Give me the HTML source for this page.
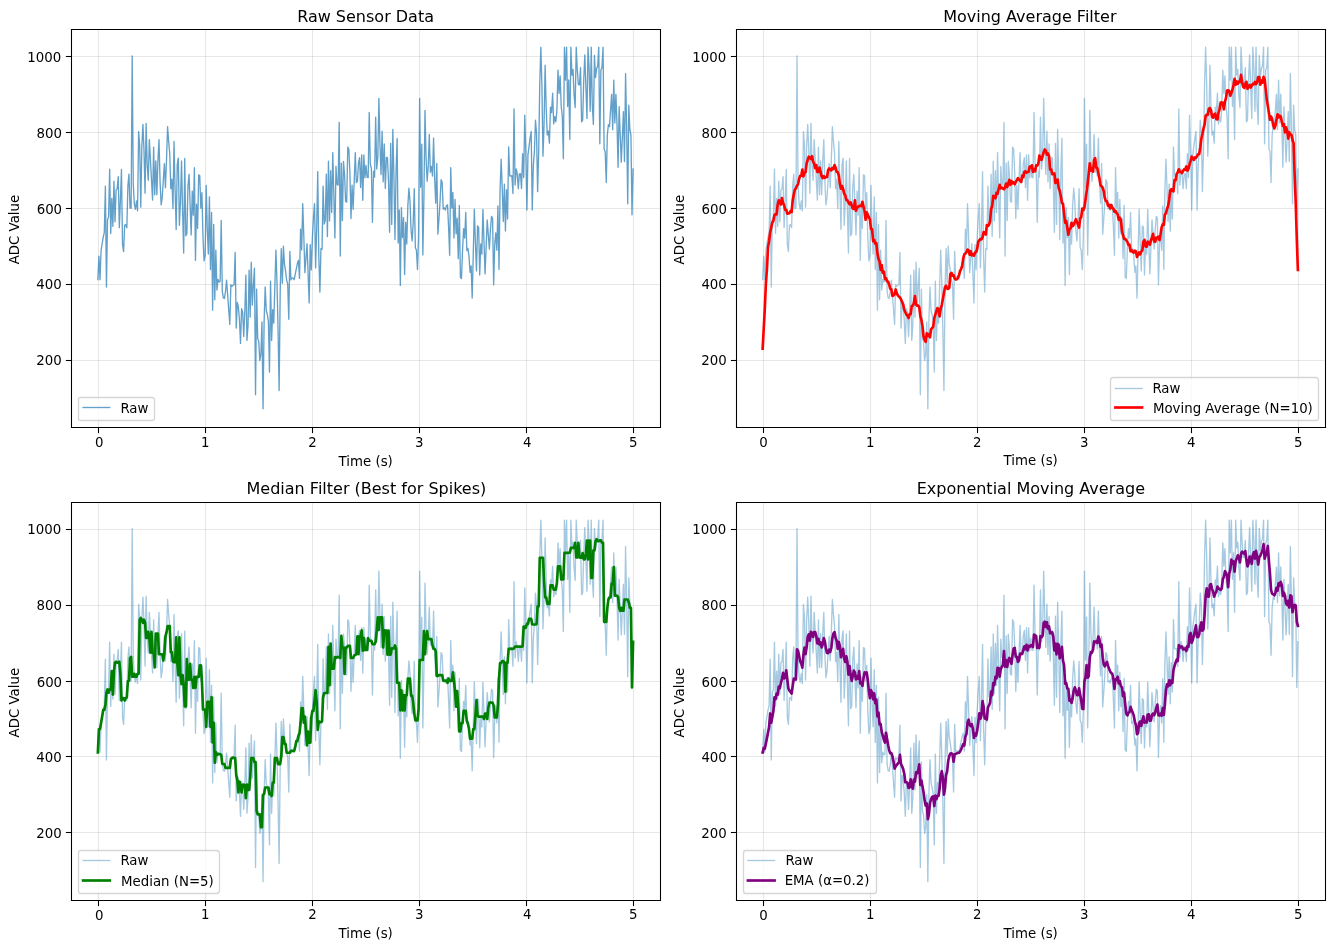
<!DOCTYPE html>
<html lang="en"><head><meta charset="utf-8"><title>ADC Sensor Filtering</title>
<style>
html,body{margin:0;padding:0;background:#fff;}
body{width:1334px;height:950px;overflow:hidden;font-family:"DejaVu Sans","Liberation Sans",sans-serif;}
svg{display:block;will-change:transform;}
</style></head><body>
<svg width="1334" height="950" viewBox="0 0.43276 1000.5 712.5" version="1.1">
 <defs>
  <style>svg *{stroke-linejoin: round; stroke-linecap: butt}</style>
 </defs>
 <g id="figure_1">
  <g id="patch_1">
   <path d="M 0 712.774375 
L 1000.678125 712.774375 
L 1000.678125 0 
L 0 0 
z
" style="fill: #ffffff"/>
  </g>
  <g id="axes_1">
   <g id="patch_2">
    <path d="M 53.328125 320.618125 
L 494.878125 320.618125 
L 494.878125 22.318125 
L 53.328125 22.318125 
z
" style="fill: #ffffff"/>
   </g>
   <g id="matplotlib.axis_1">
    <g id="xtick_1">
     <g id="line2d_1">
      <path d="M 73.875 320.6181 L 73.875 22.3181" clip-path="url(#p003c4ebb7e)" style="fill: none; stroke: #b0b0b0; stroke-opacity: 0.3; stroke-width: 0.8; stroke-linecap: square"/>
     </g>
     <g id="line2d_2">
      <defs>
       <path id="m572e7fd0fb" d="M 0 0 
L 0 4.2 
" style="stroke: #000000; stroke-width: 0.8"/>
      </defs>
      <g>
       <use href="#m572e7fd0fb" x="73.875" y="321.0578" style="stroke: #000000; stroke-width: 0.8"/>
      </g>
     </g>
     <g id="text_1">
      <text style="font-size: 10px; font-family: 'DejaVu Sans', 'Liberation Sans', sans-serif; text-anchor: middle" x="74.492" y="335.728">0</text>
     </g>
    </g>
    <g id="xtick_2">
     <g id="line2d_3">
      <path d="M 154.125 320.6181 L 154.125 22.3181" clip-path="url(#p003c4ebb7e)" style="fill: none; stroke: #b0b0b0; stroke-opacity: 0.3; stroke-width: 0.8; stroke-linecap: square"/>
     </g>
     <g id="line2d_4">
      <g>
       <use href="#m572e7fd0fb" x="154.125" y="321.0578" style="stroke: #000000; stroke-width: 0.8"/>
      </g>
     </g>
     <g id="text_2">
      <text style="font-size: 10px; font-family: 'DejaVu Sans', 'Liberation Sans', sans-serif; text-anchor: middle" x="153.9066" y="335.9246">1</text>
     </g>
    </g>
    <g id="xtick_3">
     <g id="line2d_5">
      <path d="M 234.375 320.6181 L 234.375 22.3181" clip-path="url(#p003c4ebb7e)" style="fill: none; stroke: #b0b0b0; stroke-opacity: 0.3; stroke-width: 0.8; stroke-linecap: square"/>
     </g>
     <g id="line2d_6">
      <g>
       <use href="#m572e7fd0fb" x="234.375" y="321.0578" style="stroke: #000000; stroke-width: 0.8"/>
      </g>
     </g>
     <g id="text_3">
      <text style="font-size: 10px; font-family: 'DejaVu Sans', 'Liberation Sans', sans-serif; text-anchor: middle" x="234.2916" y="335.9083">2</text>
     </g>
    </g>
    <g id="xtick_4">
     <g id="line2d_7">
      <path d="M 314.625 320.6181 L 314.625 22.3181" clip-path="url(#p003c4ebb7e)" style="fill: none; stroke: #b0b0b0; stroke-opacity: 0.3; stroke-width: 0.8; stroke-linecap: square"/>
     </g>
     <g id="line2d_8">
      <g>
       <use href="#m572e7fd0fb" x="314.625" y="321.0578" style="stroke: #000000; stroke-width: 0.8"/>
      </g>
     </g>
     <g id="text_4">
      <text style="font-size: 10px; font-family: 'DejaVu Sans', 'Liberation Sans', sans-serif; text-anchor: middle" x="314.4795" y="335.9885">3</text>
     </g>
    </g>
    <g id="xtick_5">
     <g id="line2d_9">
      <path d="M 394.875 320.6181 L 394.875 22.3181" clip-path="url(#p003c4ebb7e)" style="fill: none; stroke: #b0b0b0; stroke-opacity: 0.3; stroke-width: 0.8; stroke-linecap: square"/>
     </g>
     <g id="line2d_10">
      <g>
       <use href="#m572e7fd0fb" x="394.875" y="321.0578" style="stroke: #000000; stroke-width: 0.8"/>
      </g>
     </g>
     <g id="text_5">
      <text style="font-size: 10px; font-family: 'DejaVu Sans', 'Liberation Sans', sans-serif; text-anchor: middle" x="395.374" y="335.9714">4</text>
     </g>
    </g>
    <g id="xtick_6">
     <g id="line2d_11">
      <path d="M 475.125 320.6181 L 475.125 22.3181" clip-path="url(#p003c4ebb7e)" style="fill: none; stroke: #b0b0b0; stroke-opacity: 0.3; stroke-width: 0.8; stroke-linecap: square"/>
     </g>
     <g id="line2d_12">
      <g>
       <use href="#m572e7fd0fb" x="475.125" y="321.0578" style="stroke: #000000; stroke-width: 0.8"/>
      </g>
     </g>
     <g id="text_6">
      <text style="font-size: 10px; font-family: 'DejaVu Sans', 'Liberation Sans', sans-serif; text-anchor: middle" x="474.9556" y="335.9235">5</text>
     </g>
    </g>
    <g id="text_7">
     <text style="font-size: 10px; font-family: 'DejaVu Sans', 'Liberation Sans', sans-serif; text-anchor: middle" x="274.2772" y="349.561">Time (s)</text>
    </g>
   </g>
   <g id="matplotlib.axis_2">
    <g id="ytick_1">
     <g id="line2d_13">
      <path d="M 53.3281 270.8078 L 494.8781 270.8078" clip-path="url(#p003c4ebb7e)" style="fill: none; stroke: #b0b0b0; stroke-opacity: 0.3; stroke-width: 0.8; stroke-linecap: square"/>
     </g>
     <g id="line2d_14">
      <defs>
       <path id="m8037495adb" d="M 0 0 
L -4.2 0 
" style="stroke: #000000; stroke-width: 0.8"/>
      </defs>
      <g>
       <use href="#m8037495adb" x="53.625" y="270.8078" style="stroke: #000000; stroke-width: 0.8"/>
      </g>
     </g>
     <g id="text_8">
      <text style="font-size: 10px; font-family: 'DejaVu Sans', 'Liberation Sans', sans-serif; text-anchor: end" x="46.2723" y="274.3776">200</text>
     </g>
    </g>
    <g id="ytick_2">
     <g id="line2d_15">
      <path d="M 53.3281 213.8078 L 494.8781 213.8078" clip-path="url(#p003c4ebb7e)" style="fill: none; stroke: #b0b0b0; stroke-opacity: 0.3; stroke-width: 0.8; stroke-linecap: square"/>
     </g>
     <g id="line2d_16">
      <g>
       <use href="#m8037495adb" x="53.625" y="213.8078" style="stroke: #000000; stroke-width: 0.8"/>
      </g>
     </g>
     <g id="text_9">
      <text style="font-size: 10px; font-family: 'DejaVu Sans', 'Liberation Sans', sans-serif; text-anchor: end" x="46.2899" y="217.513">400</text>
     </g>
    </g>
    <g id="ytick_3">
     <g id="line2d_17">
      <path d="M 53.3281 156.8078 L 494.8781 156.8078" clip-path="url(#p003c4ebb7e)" style="fill: none; stroke: #b0b0b0; stroke-opacity: 0.3; stroke-width: 0.8; stroke-linecap: square"/>
     </g>
     <g id="line2d_18">
      <g>
       <use href="#m8037495adb" x="53.625" y="156.8078" style="stroke: #000000; stroke-width: 0.8"/>
      </g>
     </g>
     <g id="text_10">
      <text style="font-size: 10px; font-family: 'DejaVu Sans', 'Liberation Sans', sans-serif; text-anchor: end" x="46.5833" y="160.8093">600</text>
     </g>
    </g>
    <g id="ytick_4">
     <g id="line2d_19">
      <path d="M 53.3281 99.8078 L 494.8781 99.8078" clip-path="url(#p003c4ebb7e)" style="fill: none; stroke: #b0b0b0; stroke-opacity: 0.3; stroke-width: 0.8; stroke-linecap: square"/>
     </g>
     <g id="line2d_20">
      <g>
       <use href="#m8037495adb" x="53.625" y="99.8078" style="stroke: #000000; stroke-width: 0.8"/>
      </g>
     </g>
     <g id="text_11">
      <text style="font-size: 10px; font-family: 'DejaVu Sans', 'Liberation Sans', sans-serif; text-anchor: end" x="46.4722" y="103.6917">800</text>
     </g>
    </g>
    <g id="ytick_5">
     <g id="line2d_21">
      <path d="M 53.3281 42.8078 L 494.8781 42.8078" clip-path="url(#p003c4ebb7e)" style="fill: none; stroke: #b0b0b0; stroke-opacity: 0.3; stroke-width: 0.8; stroke-linecap: square"/>
     </g>
     <g id="line2d_22">
      <g>
       <use href="#m8037495adb" x="53.625" y="42.8078" style="stroke: #000000; stroke-width: 0.8"/>
      </g>
     </g>
     <g id="text_12">
      <text style="font-size: 10px; font-family: 'DejaVu Sans', 'Liberation Sans', sans-serif; text-anchor: end" x="45.9663" y="46.6152">1000</text>
     </g>
    </g>
    <g id="text_13">
     <text style="font-size: 10px; font-family: 'DejaVu Sans', 'Liberation Sans', sans-serif; text-anchor: middle" x="14.392" y="172.6118" transform="rotate(-90 14.392 172.6118)">ADC Value</text>
    </g>
   </g>
   <g id="line2d_23">
    <path d="M 73.39858 210.157566 
L 74.203007 192.642111 
L 75.007434 210.134687 
L 75.811861 188.11066 
L 77.420715 178.22459 
L 78.225142 174.853177 
L 79.029569 140.127535 
L 79.833996 215.740058 
L 80.638423 165.373189 
L 81.44285 162.88324 
L 82.247277 127.397187 
L 83.051704 175.631864 
L 83.856131 149.166159 
L 84.660558 170.103704 
L 85.464985 136.378392 
L 86.269412 166.752884 
L 87.073839 142.82963 
L 87.878266 142.056146 
L 88.682693 132.905916 
L 89.48712 171.184851 
L 90.291547 151.035802 
L 91.095974 127.479543 
L 91.900401 183.707467 
L 92.704828 189.126496 
L 93.509255 169.450076 
L 94.313682 168.910432 
L 95.11811 171.213358 
L 95.922537 139.599315 
L 96.726964 131.067761 
L 97.531391 156.550751 
L 98.335818 156.442824 
L 99.140245 42.42269 
L 99.944672 138.512574 
L 100.749099 153.40746 
L 101.553526 157.349145 
L 102.357953 151.159174 
L 103.16238 158.533525 
L 103.966807 99.17202 
L 104.771234 109.328927 
L 105.575661 155.811099 
L 106.380088 110.575959 
L 107.184515 93.704173 
L 107.988942 112.909404 
L 108.793369 145.33676 
L 109.597796 92.961444 
L 110.402223 124.25251 
L 111.20665 135.592015 
L 112.011077 105.131394 
L 114.424358 150.512272 
L 115.228785 110.757607 
L 116.033212 146.489129 
L 116.837639 121.071958 
L 117.642067 146.474256 
L 118.446494 120.727306 
L 119.250921 105.16625 
L 120.055348 136.546628 
L 120.859775 154.036432 
L 121.664202 148.590665 
L 123.273056 123.159358 
L 124.077483 141.296605 
L 124.88191 120.145368 
L 125.686337 95.459787 
L 126.490764 106.625108 
L 127.295191 115.417943 
L 128.099618 141.930553 
L 128.904045 134.888546 
L 129.708472 156.861609 
L 130.512899 106.558175 
L 131.317326 142.503128 
L 132.121753 172.518576 
L 132.92618 123.920205 
L 133.730607 118.989752 
L 134.535034 169.425035 
L 135.339461 152.173298 
L 136.143888 121.202331 
L 136.948315 158.901349 
L 137.752742 190.178022 
L 138.557169 119.260194 
L 139.361596 177.272055 
L 140.166024 175.674377 
L 140.970451 140.148127 
L 141.774878 131.253456 
L 143.383732 176.617836 
L 144.188159 143.772658 
L 144.992586 161.80023 
L 145.797013 126.245622 
L 146.60144 195.721471 
L 147.405867 153.539424 
L 148.210294 171.774596 
L 149.014721 131.550204 
L 149.819148 132.264242 
L 150.623575 156.552775 
L 151.428002 144.877336 
L 152.232429 177.988518 
L 153.036856 196.059196 
L 153.841283 192.375545 
L 154.64571 139.448733 
L 155.450137 172.263152 
L 156.254564 190.948241 
L 157.058991 148.045163 
L 157.863418 202.637495 
L 158.667845 159.818355 
L 159.472272 233.050183 
L 160.276699 168.70858 
L 161.081126 225.243907 
L 161.885553 187.970202 
L 162.689981 217.925852 
L 163.494408 209.964213 
L 164.298835 211.949229 
L 165.103262 211.441569 
L 165.907689 165.706059 
L 166.712116 218.759615 
L 167.516543 223.900463 
L 168.32097 224.267193 
L 169.125397 218.861991 
L 169.929824 210.632686 
L 172.343105 243.756138 
L 173.147532 213.999454 
L 173.951959 215.206535 
L 174.756386 214.386922 
L 175.560813 213.951788 
L 176.36524 189.738664 
L 177.169667 246.519102 
L 177.974094 227.291569 
L 178.778521 230.659469 
L 179.582948 240.212771 
L 180.387375 258.009743 
L 181.191802 231.949766 
L 181.996229 234.540021 
L 182.800656 252.869246 
L 183.605083 234.267857 
L 184.40951 206.779986 
L 185.213938 255.770701 
L 186.018365 244.530125 
L 186.822792 203.132261 
L 187.627219 238.292388 
L 188.431646 196.983046 
L 189.236073 229.318186 
L 190.0405 214.30873 
L 190.844927 201.489314 
L 191.649354 296.415525 
L 192.453781 217.362841 
L 193.258208 254.06958 
L 194.062635 256.67286 
L 194.867062 270.803113 
L 195.671489 266.194233 
L 196.475916 241.851757 
L 197.280343 307.059034 
L 198.08477 241.388289 
L 198.889197 215.670364 
L 199.693624 233.109038 
L 200.498051 236.477546 
L 201.302478 241.478385 
L 202.106905 279.482669 
L 202.911332 211.380118 
L 203.715759 255.801327 
L 204.520186 232.728174 
L 205.324613 242.817038 
L 206.933468 188.13019 
L 207.737895 212.133124 
L 208.542322 247.310741 
L 209.346749 293.370457 
L 210.151176 218.904753 
L 210.955603 186.863134 
L 211.76003 212.926213 
L 212.564457 185.031785 
L 213.368884 198.635899 
L 214.173311 203.704578 
L 214.977738 210.361616 
L 215.782165 213.558716 
L 216.586592 239.898663 
L 217.391019 188.95762 
L 218.195446 210.38563 
L 218.999873 208.956938 
L 219.8043 208.972844 
L 220.608727 210.194354 
L 223.022008 198.067746 
L 223.826435 195.660281 
L 224.630862 209.227706 
L 225.435289 172.248099 
L 226.239716 187.899556 
L 227.044143 153.192667 
L 227.84857 176.983012 
L 228.652997 204.935735 
L 230.261852 183.243022 
L 231.870706 227.585952 
L 232.675133 183.863656 
L 233.47956 202.784941 
L 234.283987 179.026323 
L 235.088414 163.484196 
L 235.892841 153.182028 
L 236.697268 201.356315 
L 237.501695 171.752137 
L 238.306122 129.122861 
L 239.110549 193.211 
L 239.914976 219.407179 
L 240.719403 186.834705 
L 241.52383 187.442521 
L 242.328257 140.002491 
L 243.132684 168.557213 
L 243.937111 165.594919 
L 244.741538 130.964452 
L 245.545965 177.801838 
L 246.350392 121.319174 
L 247.154819 166.135304 
L 247.959246 128.474956 
L 248.763673 159.763068 
L 249.5681 114.84711 
L 251.176954 178.866515 
L 251.981382 125.254503 
L 252.785809 138.661602 
L 253.590236 139.292707 
L 254.394663 92.210034 
L 255.19909 192.426074 
L 256.003517 122.748987 
L 256.807944 165.797134 
L 257.612371 121.475052 
L 258.416798 131.530336 
L 259.221225 151.306345 
L 260.025652 152.031744 
L 260.830079 110.664857 
L 261.634506 112.31512 
L 262.438933 130.243086 
L 263.24336 164.326952 
L 264.047787 139.306443 
L 264.852214 157.418399 
L 266.461068 114.90444 
L 267.265495 137.385177 
L 268.069922 136.393214 
L 268.874349 122.995417 
L 269.678776 118.600397 
L 270.483203 141.035772 
L 271.28763 116.596751 
L 272.092057 150.629289 
L 272.896484 116.688656 
L 273.700911 133.883757 
L 274.505339 124.431289 
L 275.309766 133.253293 
L 276.114193 133.716674 
L 276.91862 84.704828 
L 277.723047 123.645171 
L 278.527474 126.410564 
L 279.331901 167.126834 
L 280.136328 128.896556 
L 280.940755 133.284437 
L 281.745182 88.297683 
L 282.549609 127.18028 
L 283.354036 118.268879 
L 284.158463 74.179934 
L 284.96289 108.773641 
L 285.767317 131.371492 
L 286.571744 98.886731 
L 287.376171 136.728422 
L 288.180598 108.284683 
L 288.985025 141.714372 
L 289.789452 118.520963 
L 290.593879 118.736927 
L 291.398306 136.817951 
L 292.202733 174.695496 
L 293.00716 107.952552 
L 293.811587 168.762485 
L 294.616014 97.432522 
L 295.420441 132.129395 
L 296.224868 180.10883 
L 297.029296 129.885585 
L 297.833723 104.283073 
L 298.63815 182.65463 
L 299.442577 157.889717 
L 300.247004 214.461996 
L 301.051431 156.216836 
L 301.855858 178.554688 
L 302.660285 163.597762 
L 303.464712 206.317231 
L 304.269139 167.186336 
L 305.073566 183.463913 
L 305.877993 154.832679 
L 306.68242 141.575819 
L 307.486847 151.232752 
L 308.291274 172.91144 
L 309.095701 181.072182 
L 309.900128 167.536795 
L 310.704555 141.964601 
L 311.508982 186.102999 
L 312.313409 188.124616 
L 313.117836 202.57246 
L 313.922263 177.961926 
L 314.72669 74.292856 
L 315.531117 140.841353 
L 316.335544 108.614999 
L 317.139971 191.766999 
L 317.944398 147.716523 
L 318.748825 83.207223 
L 319.553253 119.217747 
L 320.35768 136.393932 
L 321.162107 125.115453 
L 321.966534 101.270393 
L 322.770961 129.603721 
L 323.575388 125.159004 
L 324.379815 132.441495 
L 325.184242 104.113633 
L 325.988669 134.32472 
L 326.793096 152.778096 
L 327.597523 123.068037 
L 328.40195 176.085298 
L 329.206377 165.088196 
L 330.010804 152.157527 
L 330.815231 135.257897 
L 331.619658 137.080955 
L 332.424085 157.277147 
L 333.228512 156.334438 
L 334.032939 157.992228 
L 334.837366 154.658904 
L 335.641793 154.129892 
L 336.44622 170.618218 
L 337.250647 191.866822 
L 338.055074 126.232325 
L 338.859501 156.475263 
L 339.663928 144.713458 
L 340.468355 178.903052 
L 341.272782 150.007459 
L 342.07721 175.821948 
L 342.881637 164.076543 
L 343.686064 194.455542 
L 344.490491 154.578014 
L 345.294918 208.465356 
L 346.099345 209.37547 
L 346.903772 188.21619 
L 347.708199 171.885774 
L 348.512626 178.973362 
L 349.317053 159.811302 
L 350.12148 188.385622 
L 350.925907 186.712861 
L 351.730334 192.456362 
L 352.534761 204.644704 
L 353.339188 199.821924 
L 354.143615 223.974586 
L 355.752469 157.331315 
L 356.556896 182.548403 
L 357.361323 203.587977 
L 358.16575 169.889558 
L 358.970177 170.924026 
L 359.774604 206.726249 
L 360.579031 183.361263 
L 361.383458 190.994556 
L 362.187885 157.488126 
L 363.79674 205.900032 
L 365.405594 165.401752 
L 367.014448 187.235035 
L 367.818875 172.819972 
L 368.623302 162.770874 
L 369.427729 163.953345 
L 370.232156 214.034527 
L 371.036583 183.823888 
L 371.84101 175.03897 
L 372.645437 188.097239 
L 373.449864 154.850452 
L 374.254291 202.462319 
L 375.058718 143.171478 
L 375.863145 119.858634 
L 376.667572 141.682908 
L 377.471999 166.631776 
L 378.276426 138.562257 
L 379.080853 173.682391 
L 379.88528 142.765898 
L 380.689707 164.683963 
L 381.494134 110.564291 
L 382.298561 132.349692 
L 383.102988 132.446583 
L 383.907415 132.185669 
L 384.711842 145.537032 
L 385.516269 82.107615 
L 386.320697 139.209747 
L 387.125124 127.158426 
L 387.929551 130.68125 
L 388.733978 141.910941 
L 389.538405 130.794507 
L 390.342832 130.653711 
L 391.147259 141.867081 
L 391.951686 115.758027 
L 392.756113 133.570096 
L 393.56054 86.821162 
L 394.364967 113.769849 
L 395.169394 157.997904 
L 395.973821 116.648222 
L 397.582675 103.806541 
L 398.387102 99.052443 
L 399.191529 157.91539 
L 399.995956 124.462904 
L 400.800383 114.184281 
L 401.60481 90.639797 
L 402.409237 100.523166 
L 403.213664 144.164768 
L 404.018091 113.995937 
L 404.822518 63.702972 
L 405.626945 35.877216 
L 406.431372 64.147276 
L 407.235799 117.530621 
L 408.040226 93.801425 
L 408.844654 49.353613 
L 409.649081 81.396638 
L 410.453508 101.732288 
L 411.257935 98.721731 
L 412.062362 107.772626 
L 412.866789 80.725521 
L 413.671216 84.91403 
L 414.475643 70.397537 
L 415.28007 93.350017 
L 416.084497 87.99351 
L 416.888924 91.780609 
L 417.693351 82.822928 
L 418.497778 52.997242 
L 419.302205 70.564343 
L 420.106632 57.29311 
L 420.911059 80.31405 
L 421.715486 87.672217 
L 422.519913 119.467114 
L 423.32434 35.877216 
L 424.128767 60.510518 
L 424.933194 35.877216 
L 425.737621 80.301178 
L 426.542048 60.398165 
L 427.346475 104.996617 
L 428.150902 35.877216 
L 428.955329 56.744467 
L 429.759756 52.434365 
L 430.564183 71.914508 
L 431.368611 81.087673 
L 432.173038 35.877216 
L 432.977465 52.960224 
L 433.781892 63.845302 
L 434.586319 64.08457 
L 435.390746 51.088929 
L 436.195173 91.760059 
L 436.9996 90.489339 
L 437.804027 60.677492 
L 438.608454 41.53737 
L 440.217308 89.231328 
L 441.021735 35.877216 
L 441.826162 51.329124 
L 442.630589 83.920915 
L 443.435016 35.877216 
L 444.239443 79.333975 
L 445.04387 93.715529 
L 445.848297 42.067476 
L 446.652724 58.659118 
L 447.457151 51.685047 
L 448.261578 50.221886 
L 449.066005 35.877216 
L 449.870432 108.277996 
L 450.674859 52.882565 
L 451.479286 51.041203 
L 452.283713 35.877216 
L 453.08814 112.217265 
L 453.892568 114.21461 
L 454.696995 137.281782 
L 455.501422 101.695667 
L 456.305849 93.841602 
L 457.110276 95.370047 
L 458.71913 71.179325 
L 459.523557 97.683579 
L 460.327984 60.571535 
L 461.132411 92.609582 
L 461.936838 71.078925 
L 462.741265 93.461528 
L 463.545692 125.866779 
L 464.350119 80.400313 
L 465.958973 122.04285 
L 467.567827 84.135117 
L 468.372254 121.542988 
L 469.176681 55.669135 
L 469.981108 95.468173 
L 470.785535 153.313831 
L 471.589962 79.312259 
L 472.394389 97.744175 
L 473.198816 101.681919 
L 474.003243 161.482792 
L 474.80767 127.143885 
L 474.80767 127.143885 
" clip-path="url(#p003c4ebb7e)" style="fill: none; stroke: #1f77b4; stroke-opacity: 0.7; stroke-linecap: square"/>
   </g>
   <g id="patch_3">
    <path d="M 53.625 321.0578 L 53.625 22.5578" style="fill: none; stroke: #000000; stroke-width: 0.8; stroke-linejoin: miter; stroke-linecap: square"/>
   </g>
   <g id="patch_4">
    <path d="M 495.375 321.0578 L 495.375 22.5578" style="fill: none; stroke: #000000; stroke-width: 0.8; stroke-linejoin: miter; stroke-linecap: square"/>
   </g>
   <g id="patch_5">
    <path d="M 53.625 321.0578 L 495.375 321.0578" style="fill: none; stroke: #000000; stroke-width: 0.8; stroke-linejoin: miter; stroke-linecap: square"/>
   </g>
   <g id="patch_6">
    <path d="M 53.625 22.5578 L 495.375 22.5578" style="fill: none; stroke: #000000; stroke-width: 0.8; stroke-linejoin: miter; stroke-linecap: square"/>
   </g>
   <g id="text_14">
    <text style="font-size: 12px; font-family: 'DejaVu Sans', 'Liberation Sans', sans-serif; text-anchor: middle" x="274.1787" y="17.1365">Raw Sensor Data</text>
   </g>
   <g id="legend_1">
    <g id="patch_7">
     <path d="M 60.375 315.8078 L 113.625 315.8078 Q 115.875 315.8078 115.875 314.3078 L 115.875 300.0578 Q 115.875 298.5578 113.625 298.5578 L 60.375 298.5578 Q 58.875 298.5578 58.875 300.0578 L 58.875 314.3078 Q 58.875 315.8078 60.375 315.8078 z" style="fill: #ffffff; opacity: 0.8; stroke: #cccccc; stroke-linejoin: miter"/>
    </g>
    <g id="line2d_24">
     <path d="M 62.3281 306.0578 L 72.3281 306.0578 L 82.3281 306.0578" style="fill: none; stroke: #1f77b4; stroke-opacity: 0.7; stroke-linecap: square"/>
    </g>
    <g id="text_15">
     <text style="font-size: 10px; font-family: 'DejaVu Sans', 'Liberation Sans', sans-serif; text-anchor: start" x="90.2821" y="310.162">Raw</text>
    </g>
   </g>
  </g>
  <g id="axes_2">
   <g id="patch_8">
    <path d="M 551.928125 320.618125 
L 993.478125 320.618125 
L 993.478125 22.318125 
L 551.928125 22.318125 
z
" style="fill: #ffffff"/>
   </g>
   <g id="matplotlib.axis_3">
    <g id="xtick_7">
     <g id="line2d_25">
      <path d="M 572.625 320.6181 L 572.625 22.3181" clip-path="url(#p97eadddab8)" style="fill: none; stroke: #b0b0b0; stroke-opacity: 0.3; stroke-width: 0.8; stroke-linecap: square"/>
     </g>
     <g id="line2d_26">
      <g>
       <use href="#m572e7fd0fb" x="572.625" y="321.0578" style="stroke: #000000; stroke-width: 0.8"/>
      </g>
     </g>
     <g id="text_16">
      <text style="font-size: 10px; font-family: 'DejaVu Sans', 'Liberation Sans', sans-serif; text-anchor: middle" x="572.5359" y="335.7148">0</text>
     </g>
    </g>
    <g id="xtick_8">
     <g id="line2d_27">
      <path d="M 652.875 320.6181 L 652.875 22.3181" clip-path="url(#p97eadddab8)" style="fill: none; stroke: #b0b0b0; stroke-opacity: 0.3; stroke-width: 0.8; stroke-linecap: square"/>
     </g>
     <g id="line2d_28">
      <g>
       <use href="#m572e7fd0fb" x="652.875" y="321.0578" style="stroke: #000000; stroke-width: 0.8"/>
      </g>
     </g>
     <g id="text_17">
      <text style="font-size: 10px; font-family: 'DejaVu Sans', 'Liberation Sans', sans-serif; text-anchor: middle" x="652.6727" y="335.9519">1</text>
     </g>
    </g>
    <g id="xtick_9">
     <g id="line2d_29">
      <path d="M 733.125 320.6181 L 733.125 22.3181" clip-path="url(#p97eadddab8)" style="fill: none; stroke: #b0b0b0; stroke-opacity: 0.3; stroke-width: 0.8; stroke-linecap: square"/>
     </g>
     <g id="line2d_30">
      <g>
       <use href="#m572e7fd0fb" x="733.125" y="321.0578" style="stroke: #000000; stroke-width: 0.8"/>
      </g>
     </g>
     <g id="text_18">
      <text style="font-size: 10px; font-family: 'DejaVu Sans', 'Liberation Sans', sans-serif; text-anchor: middle" x="732.9649" y="335.8433">2</text>
     </g>
    </g>
    <g id="xtick_10">
     <g id="line2d_31">
      <path d="M 813.375 320.6181 L 813.375 22.3181" clip-path="url(#p97eadddab8)" style="fill: none; stroke: #b0b0b0; stroke-opacity: 0.3; stroke-width: 0.8; stroke-linecap: square"/>
     </g>
     <g id="line2d_32">
      <g>
       <use href="#m572e7fd0fb" x="813.375" y="321.0578" style="stroke: #000000; stroke-width: 0.8"/>
      </g>
     </g>
     <g id="text_19">
      <text style="font-size: 10px; font-family: 'DejaVu Sans', 'Liberation Sans', sans-serif; text-anchor: middle" x="813.2526" y="335.9175">3</text>
     </g>
    </g>
    <g id="xtick_11">
     <g id="line2d_33">
      <path d="M 893.625 320.6181 L 893.625 22.3181" clip-path="url(#p97eadddab8)" style="fill: none; stroke: #b0b0b0; stroke-opacity: 0.3; stroke-width: 0.8; stroke-linecap: square"/>
     </g>
     <g id="line2d_34">
      <g>
       <use href="#m572e7fd0fb" x="893.625" y="321.0578" style="stroke: #000000; stroke-width: 0.8"/>
      </g>
     </g>
     <g id="text_20">
      <text style="font-size: 10px; font-family: 'DejaVu Sans', 'Liberation Sans', sans-serif; text-anchor: middle" x="893.34" y="335.9438">4</text>
     </g>
    </g>
    <g id="xtick_12">
     <g id="line2d_35">
      <path d="M 973.875 320.6181 L 973.875 22.3181" clip-path="url(#p97eadddab8)" style="fill: none; stroke: #b0b0b0; stroke-opacity: 0.3; stroke-width: 0.8; stroke-linecap: square"/>
     </g>
     <g id="line2d_36">
      <g>
       <use href="#m572e7fd0fb" x="973.875" y="321.0578" style="stroke: #000000; stroke-width: 0.8"/>
      </g>
     </g>
     <g id="text_21">
      <text style="font-size: 10px; font-family: 'DejaVu Sans', 'Liberation Sans', sans-serif; text-anchor: middle" x="973.6643" y="335.9198">5</text>
     </g>
    </g>
    <g id="text_22">
     <text style="font-size: 10px; font-family: 'DejaVu Sans', 'Liberation Sans', sans-serif; text-anchor: middle" x="773.0353" y="349.5361">Time (s)</text>
    </g>
   </g>
   <g id="matplotlib.axis_4">
    <g id="ytick_6">
     <g id="line2d_37">
      <path d="M 551.9281 270.8078 L 993.4781 270.8078" clip-path="url(#p97eadddab8)" style="fill: none; stroke: #b0b0b0; stroke-opacity: 0.3; stroke-width: 0.8; stroke-linecap: square"/>
     </g>
     <g id="line2d_38">
      <g>
       <use href="#m8037495adb" x="552.375" y="270.8078" style="stroke: #000000; stroke-width: 0.8"/>
      </g>
     </g>
     <g id="text_23">
      <text style="font-size: 10px; font-family: 'DejaVu Sans', 'Liberation Sans', sans-serif; text-anchor: end" x="545.0365" y="274.3704">200</text>
     </g>
    </g>
    <g id="ytick_7">
     <g id="line2d_39">
      <path d="M 551.9281 213.8078 L 993.4781 213.8078" clip-path="url(#p97eadddab8)" style="fill: none; stroke: #b0b0b0; stroke-opacity: 0.3; stroke-width: 0.8; stroke-linecap: square"/>
     </g>
     <g id="line2d_40">
      <g>
       <use href="#m8037495adb" x="552.375" y="213.8078" style="stroke: #000000; stroke-width: 0.8"/>
      </g>
     </g>
     <g id="text_24">
      <text style="font-size: 10px; font-family: 'DejaVu Sans', 'Liberation Sans', sans-serif; text-anchor: end" x="545.1395" y="217.5136">400</text>
     </g>
    </g>
    <g id="ytick_8">
     <g id="line2d_41">
      <path d="M 551.9281 156.8078 L 993.4781 156.8078" clip-path="url(#p97eadddab8)" style="fill: none; stroke: #b0b0b0; stroke-opacity: 0.3; stroke-width: 0.8; stroke-linecap: square"/>
     </g>
     <g id="line2d_42">
      <g>
       <use href="#m8037495adb" x="552.375" y="156.8078" style="stroke: #000000; stroke-width: 0.8"/>
      </g>
     </g>
     <g id="text_25">
      <text style="font-size: 10px; font-family: 'DejaVu Sans', 'Liberation Sans', sans-serif; text-anchor: end" x="545.2216" y="160.8207">600</text>
     </g>
    </g>
    <g id="ytick_9">
     <g id="line2d_43">
      <path d="M 551.9281 99.8078 L 993.4781 99.8078" clip-path="url(#p97eadddab8)" style="fill: none; stroke: #b0b0b0; stroke-opacity: 0.3; stroke-width: 0.8; stroke-linecap: square"/>
     </g>
     <g id="line2d_44">
      <g>
       <use href="#m8037495adb" x="552.375" y="99.8078" style="stroke: #000000; stroke-width: 0.8"/>
      </g>
     </g>
     <g id="text_26">
      <text style="font-size: 10px; font-family: 'DejaVu Sans', 'Liberation Sans', sans-serif; text-anchor: end" x="545.2258" y="103.6715">800</text>
     </g>
    </g>
    <g id="ytick_10">
     <g id="line2d_45">
      <path d="M 551.9281 42.8078 L 993.4781 42.8078" clip-path="url(#p97eadddab8)" style="fill: none; stroke: #b0b0b0; stroke-opacity: 0.3; stroke-width: 0.8; stroke-linecap: square"/>
     </g>
     <g id="line2d_46">
      <g>
       <use href="#m8037495adb" x="552.375" y="42.8078" style="stroke: #000000; stroke-width: 0.8"/>
      </g>
     </g>
     <g id="text_27">
      <text style="font-size: 10px; font-family: 'DejaVu Sans', 'Liberation Sans', sans-serif; text-anchor: end" x="544.7087" y="46.5936">1000</text>
     </g>
    </g>
    <g id="text_28">
     <text style="font-size: 10px; font-family: 'DejaVu Sans', 'Liberation Sans', sans-serif; text-anchor: middle" x="512.9901" y="172.6694" transform="rotate(-90 512.9901 172.6694)">ADC Value</text>
    </g>
   </g>
   <g id="line2d_47">
    <path d="M 571.99858 210.157566 
L 572.803007 192.642111 
L 573.607434 210.134687 
L 574.411861 188.11066 
L 576.020715 178.22459 
L 576.825142 174.853177 
L 577.629569 140.127535 
L 578.433996 215.740058 
L 579.238423 165.373189 
L 580.04285 162.88324 
L 580.847277 127.397187 
L 581.651704 175.631864 
L 582.456131 149.166159 
L 583.260558 170.103704 
L 584.064985 136.378392 
L 584.869412 166.752884 
L 585.673839 142.82963 
L 586.478266 142.056146 
L 587.282693 132.905916 
L 588.08712 171.184851 
L 588.891547 151.035802 
L 589.695974 127.479543 
L 590.500401 183.707467 
L 591.304828 189.126496 
L 592.109255 169.450076 
L 592.913682 168.910432 
L 593.71811 171.213358 
L 594.522537 139.599315 
L 595.326964 131.067761 
L 596.131391 156.550751 
L 596.935818 156.442824 
L 597.740245 42.42269 
L 598.544672 138.512574 
L 599.349099 153.40746 
L 600.153526 157.349145 
L 600.957953 151.159174 
L 601.76238 158.533525 
L 602.566807 99.17202 
L 603.371234 109.328927 
L 604.175661 155.811099 
L 604.980088 110.575959 
L 605.784515 93.704173 
L 606.588942 112.909404 
L 607.393369 145.33676 
L 608.197796 92.961444 
L 609.002223 124.25251 
L 609.80665 135.592015 
L 610.611077 105.131394 
L 613.024358 150.512272 
L 613.828785 110.757607 
L 614.633212 146.489129 
L 615.437639 121.071958 
L 616.242067 146.474256 
L 617.046494 120.727306 
L 617.850921 105.16625 
L 618.655348 136.546628 
L 619.459775 154.036432 
L 620.264202 148.590665 
L 621.873056 123.159358 
L 622.677483 141.296605 
L 623.48191 120.145368 
L 624.286337 95.459787 
L 625.090764 106.625108 
L 625.895191 115.417943 
L 626.699618 141.930553 
L 627.504045 134.888546 
L 628.308472 156.861609 
L 629.112899 106.558175 
L 629.917326 142.503128 
L 630.721753 172.518576 
L 631.52618 123.920205 
L 632.330607 118.989752 
L 633.135034 169.425035 
L 633.939461 152.173298 
L 634.743888 121.202331 
L 635.548315 158.901349 
L 636.352742 190.178022 
L 637.157169 119.260194 
L 637.961596 177.272055 
L 638.766024 175.674377 
L 639.570451 140.148127 
L 640.374878 131.253456 
L 641.983732 176.617836 
L 642.788159 143.772658 
L 643.592586 161.80023 
L 644.397013 126.245622 
L 645.20144 195.721471 
L 646.005867 153.539424 
L 646.810294 171.774596 
L 647.614721 131.550204 
L 648.419148 132.264242 
L 649.223575 156.552775 
L 650.028002 144.877336 
L 650.832429 177.988518 
L 651.636856 196.059196 
L 652.441283 192.375545 
L 653.24571 139.448733 
L 654.050137 172.263152 
L 654.854564 190.948241 
L 655.658991 148.045163 
L 656.463418 202.637495 
L 657.267845 159.818355 
L 658.072272 233.050183 
L 658.876699 168.70858 
L 659.681126 225.243907 
L 660.485553 187.970202 
L 661.289981 217.925852 
L 662.094408 209.964213 
L 662.898835 211.949229 
L 663.703262 211.441569 
L 664.507689 165.706059 
L 665.312116 218.759615 
L 666.116543 223.900463 
L 666.92097 224.267193 
L 667.725397 218.861991 
L 668.529824 210.632686 
L 670.943105 243.756138 
L 671.747532 213.999454 
L 672.551959 215.206535 
L 673.356386 214.386922 
L 674.160813 213.951788 
L 674.96524 189.738664 
L 675.769667 246.519102 
L 676.574094 227.291569 
L 677.378521 230.659469 
L 678.182948 240.212771 
L 678.987375 258.009743 
L 679.791802 231.949766 
L 680.596229 234.540021 
L 681.400656 252.869246 
L 682.205083 234.267857 
L 683.00951 206.779986 
L 683.813938 255.770701 
L 684.618365 244.530125 
L 685.422792 203.132261 
L 686.227219 238.292388 
L 687.031646 196.983046 
L 687.836073 229.318186 
L 688.6405 214.30873 
L 689.444927 201.489314 
L 690.249354 296.415525 
L 691.053781 217.362841 
L 691.858208 254.06958 
L 692.662635 256.67286 
L 693.467062 270.803113 
L 694.271489 266.194233 
L 695.075916 241.851757 
L 695.880343 307.059034 
L 696.68477 241.388289 
L 697.489197 215.670364 
L 698.293624 233.109038 
L 699.098051 236.477546 
L 699.902478 241.478385 
L 700.706905 279.482669 
L 701.511332 211.380118 
L 702.315759 255.801327 
L 703.120186 232.728174 
L 703.924613 242.817038 
L 705.533468 188.13019 
L 706.337895 212.133124 
L 707.142322 247.310741 
L 707.946749 293.370457 
L 708.751176 218.904753 
L 709.555603 186.863134 
L 710.36003 212.926213 
L 711.164457 185.031785 
L 711.968884 198.635899 
L 712.773311 203.704578 
L 713.577738 210.361616 
L 714.382165 213.558716 
L 715.186592 239.898663 
L 715.991019 188.95762 
L 716.795446 210.38563 
L 717.599873 208.956938 
L 718.4043 208.972844 
L 719.208727 210.194354 
L 721.622008 198.067746 
L 722.426435 195.660281 
L 723.230862 209.227706 
L 724.035289 172.248099 
L 724.839716 187.899556 
L 725.644143 153.192667 
L 726.44857 176.983012 
L 727.252997 204.935735 
L 728.861852 183.243022 
L 730.470706 227.585952 
L 731.275133 183.863656 
L 732.07956 202.784941 
L 732.883987 179.026323 
L 733.688414 163.484196 
L 734.492841 153.182028 
L 735.297268 201.356315 
L 736.101695 171.752137 
L 736.906122 129.122861 
L 737.710549 193.211 
L 738.514976 219.407179 
L 739.319403 186.834705 
L 740.12383 187.442521 
L 740.928257 140.002491 
L 741.732684 168.557213 
L 742.537111 165.594919 
L 743.341538 130.964452 
L 744.145965 177.801838 
L 744.950392 121.319174 
L 745.754819 166.135304 
L 746.559246 128.474956 
L 747.363673 159.763068 
L 748.1681 114.84711 
L 749.776954 178.866515 
L 750.581382 125.254503 
L 751.385809 138.661602 
L 752.190236 139.292707 
L 752.994663 92.210034 
L 753.79909 192.426074 
L 754.603517 122.748987 
L 755.407944 165.797134 
L 756.212371 121.475052 
L 757.016798 131.530336 
L 757.821225 151.306345 
L 758.625652 152.031744 
L 759.430079 110.664857 
L 760.234506 112.31512 
L 761.038933 130.243086 
L 761.84336 164.326952 
L 762.647787 139.306443 
L 763.452214 157.418399 
L 765.061068 114.90444 
L 765.865495 137.385177 
L 766.669922 136.393214 
L 767.474349 122.995417 
L 768.278776 118.600397 
L 769.083203 141.035772 
L 769.88763 116.596751 
L 770.692057 150.629289 
L 771.496484 116.688656 
L 772.300911 133.883757 
L 773.105339 124.431289 
L 773.909766 133.253293 
L 774.714193 133.716674 
L 775.51862 84.704828 
L 776.323047 123.645171 
L 777.127474 126.410564 
L 777.931901 167.126834 
L 778.736328 128.896556 
L 779.540755 133.284437 
L 780.345182 88.297683 
L 781.149609 127.18028 
L 781.954036 118.268879 
L 782.758463 74.179934 
L 783.56289 108.773641 
L 784.367317 131.371492 
L 785.171744 98.886731 
L 785.976171 136.728422 
L 786.780598 108.284683 
L 787.585025 141.714372 
L 788.389452 118.520963 
L 789.193879 118.736927 
L 789.998306 136.817951 
L 790.802733 174.695496 
L 791.60716 107.952552 
L 792.411587 168.762485 
L 793.216014 97.432522 
L 794.020441 132.129395 
L 794.824868 180.10883 
L 795.629296 129.885585 
L 796.433723 104.283073 
L 797.23815 182.65463 
L 798.042577 157.889717 
L 798.847004 214.461996 
L 799.651431 156.216836 
L 800.455858 178.554688 
L 801.260285 163.597762 
L 802.064712 206.317231 
L 802.869139 167.186336 
L 803.673566 183.463913 
L 804.477993 154.832679 
L 805.28242 141.575819 
L 806.086847 151.232752 
L 806.891274 172.91144 
L 807.695701 181.072182 
L 808.500128 167.536795 
L 809.304555 141.964601 
L 810.108982 186.102999 
L 810.913409 188.124616 
L 811.717836 202.57246 
L 812.522263 177.961926 
L 813.32669 74.292856 
L 814.131117 140.841353 
L 814.935544 108.614999 
L 815.739971 191.766999 
L 816.544398 147.716523 
L 817.348825 83.207223 
L 818.153253 119.217747 
L 818.95768 136.393932 
L 819.762107 125.115453 
L 820.566534 101.270393 
L 821.370961 129.603721 
L 822.175388 125.159004 
L 822.979815 132.441495 
L 823.784242 104.113633 
L 824.588669 134.32472 
L 825.393096 152.778096 
L 826.197523 123.068037 
L 827.00195 176.085298 
L 827.806377 165.088196 
L 828.610804 152.157527 
L 829.415231 135.257897 
L 830.219658 137.080955 
L 831.024085 157.277147 
L 831.828512 156.334438 
L 832.632939 157.992228 
L 833.437366 154.658904 
L 834.241793 154.129892 
L 835.04622 170.618218 
L 835.850647 191.866822 
L 836.655074 126.232325 
L 837.459501 156.475263 
L 838.263928 144.713458 
L 839.068355 178.903052 
L 839.872782 150.007459 
L 840.67721 175.821948 
L 841.481637 164.076543 
L 842.286064 194.455542 
L 843.090491 154.578014 
L 843.894918 208.465356 
L 844.699345 209.37547 
L 845.503772 188.21619 
L 846.308199 171.885774 
L 847.112626 178.973362 
L 847.917053 159.811302 
L 848.72148 188.385622 
L 849.525907 186.712861 
L 850.330334 192.456362 
L 851.134761 204.644704 
L 851.939188 199.821924 
L 852.743615 223.974586 
L 854.352469 157.331315 
L 855.156896 182.548403 
L 855.961323 203.587977 
L 856.76575 169.889558 
L 857.570177 170.924026 
L 858.374604 206.726249 
L 859.179031 183.361263 
L 859.983458 190.994556 
L 860.787885 157.488126 
L 862.39674 205.900032 
L 864.005594 165.401752 
L 865.614448 187.235035 
L 866.418875 172.819972 
L 867.223302 162.770874 
L 868.027729 163.953345 
L 868.832156 214.034527 
L 869.636583 183.823888 
L 870.44101 175.03897 
L 871.245437 188.097239 
L 872.049864 154.850452 
L 872.854291 202.462319 
L 873.658718 143.171478 
L 874.463145 119.858634 
L 875.267572 141.682908 
L 876.071999 166.631776 
L 876.876426 138.562257 
L 877.680853 173.682391 
L 878.48528 142.765898 
L 879.289707 164.683963 
L 880.094134 110.564291 
L 880.898561 132.349692 
L 881.702988 132.446583 
L 882.507415 132.185669 
L 883.311842 145.537032 
L 884.116269 82.107615 
L 884.920697 139.209747 
L 885.725124 127.158426 
L 886.529551 130.68125 
L 887.333978 141.910941 
L 888.138405 130.794507 
L 888.942832 130.653711 
L 889.747259 141.867081 
L 890.551686 115.758027 
L 891.356113 133.570096 
L 892.16054 86.821162 
L 892.964967 113.769849 
L 893.769394 157.997904 
L 894.573821 116.648222 
L 896.182675 103.806541 
L 896.987102 99.052443 
L 897.791529 157.91539 
L 898.595956 124.462904 
L 899.400383 114.184281 
L 900.20481 90.639797 
L 901.009237 100.523166 
L 901.813664 144.164768 
L 902.618091 113.995937 
L 903.422518 63.702972 
L 904.226945 35.877216 
L 905.031372 64.147276 
L 905.835799 117.530621 
L 906.640226 93.801425 
L 907.444654 49.353613 
L 908.249081 81.396638 
L 909.053508 101.732288 
L 909.857935 98.721731 
L 910.662362 107.772626 
L 911.466789 80.725521 
L 912.271216 84.91403 
L 913.075643 70.397537 
L 913.88007 93.350017 
L 914.684497 87.99351 
L 915.488924 91.780609 
L 916.293351 82.822928 
L 917.097778 52.997242 
L 917.902205 70.564343 
L 918.706632 57.29311 
L 919.511059 80.31405 
L 920.315486 87.672217 
L 921.119913 119.467114 
L 921.92434 35.877216 
L 922.728767 60.510518 
L 923.533194 35.877216 
L 924.337621 80.301178 
L 925.142048 60.398165 
L 925.946475 104.996617 
L 926.750902 35.877216 
L 927.555329 56.744467 
L 928.359756 52.434365 
L 929.164183 71.914508 
L 929.968611 81.087673 
L 930.773038 35.877216 
L 931.577465 52.960224 
L 932.381892 63.845302 
L 933.186319 64.08457 
L 933.990746 51.088929 
L 934.795173 91.760059 
L 935.5996 90.489339 
L 936.404027 60.677492 
L 937.208454 41.53737 
L 938.817308 89.231328 
L 939.621735 35.877216 
L 940.426162 51.329124 
L 941.230589 83.920915 
L 942.035016 35.877216 
L 942.839443 79.333975 
L 943.64387 93.715529 
L 944.448297 42.067476 
L 945.252724 58.659118 
L 946.057151 51.685047 
L 946.861578 50.221886 
L 947.666005 35.877216 
L 948.470432 108.277996 
L 949.274859 52.882565 
L 950.079286 51.041203 
L 950.883713 35.877216 
L 951.68814 112.217265 
L 952.492568 114.21461 
L 953.296995 137.281782 
L 954.101422 101.695667 
L 954.905849 93.841602 
L 955.710276 95.370047 
L 957.31913 71.179325 
L 958.123557 97.683579 
L 958.927984 60.571535 
L 959.732411 92.609582 
L 960.536838 71.078925 
L 961.341265 93.461528 
L 962.145692 125.866779 
L 962.950119 80.400313 
L 964.558973 122.04285 
L 966.167827 84.135117 
L 966.972254 121.542988 
L 967.776681 55.669135 
L 968.581108 95.468173 
L 969.385535 153.313831 
L 970.189962 79.312259 
L 970.994389 97.744175 
L 971.798816 101.681919 
L 972.603243 161.482792 
L 973.40767 127.143885 
L 973.40767 127.143885 
" clip-path="url(#p97eadddab8)" style="fill: none; stroke: #1f77b4; stroke-opacity: 0.4; stroke-linecap: square"/>
   </g>
   <g id="line2d_48">
    <path d="M 571.99858 261.926744 
L 573.607434 231.832821 
L 574.411861 213.144725 
L 575.216288 202.01788 
L 576.020715 185.854349 
L 576.825142 181.126917 
L 577.629569 174.602424 
L 579.238423 167.257692 
L 580.04285 165.95007 
L 580.847277 161.765451 
L 581.651704 160.955421 
L 582.456131 161.225631 
L 583.260558 153.85724 
L 584.064985 150.610512 
L 584.869412 151.440673 
L 585.673839 153.804535 
L 586.478266 148.989303 
L 587.282693 152.443433 
L 588.08712 154.345713 
L 588.891547 157.652881 
L 589.695974 157.868636 
L 590.500401 160.707009 
L 592.109255 160.27751 
L 592.913682 158.8141 
L 593.71811 159.354802 
L 594.522537 150.849117 
L 595.326964 146.329628 
L 596.131391 142.757724 
L 596.935818 141.547631 
L 597.740245 139.772505 
L 598.544672 138.504522 
L 599.349099 134.461792 
L 600.153526 132.287909 
L 600.957953 132.213944 
L 601.76238 127.627257 
L 602.566807 132.755405 
L 603.371234 130.195089 
L 604.175661 129.388018 
L 604.980088 122.949248 
L 605.784515 120.258582 
L 606.588942 117.964431 
L 607.393369 118.560368 
L 608.197796 119.595011 
L 609.002223 117.551378 
L 609.80665 121.54501 
L 610.611077 123.250353 
L 611.415504 126.608325 
L 612.219931 124.181845 
L 613.024358 129.533126 
L 613.828785 129.180606 
L 614.633212 126.13803 
L 616.242067 132.715661 
L 617.046494 134.03725 
L 617.850921 132.578387 
L 618.655348 133.818562 
L 619.459775 133.29931 
L 620.264202 133.206651 
L 621.068629 128.105204 
L 621.873056 126.694984 
L 622.677483 127.720153 
L 623.48191 128.258546 
L 624.286337 126.343757 
L 625.090764 127.170851 
L 625.895191 124.234305 
L 626.699618 126.168682 
L 627.504045 129.290879 
L 628.308472 129.668363 
L 629.112899 132.02136 
L 629.917326 138.301352 
L 630.721753 141.976888 
L 631.52618 139.904066 
L 632.330607 142.305346 
L 633.135034 145.636987 
L 633.939461 146.907189 
L 634.743888 150.384082 
L 635.548315 150.699662 
L 636.352742 152.322454 
L 637.157169 153.548824 
L 637.961596 152.1565 
L 639.570451 156.857987 
L 640.374878 157.147875 
L 641.179305 150.754635 
L 641.983732 158.400763 
L 642.788159 156.027499 
L 643.592586 155.637521 
L 644.397013 154.777729 
L 646.005867 154.983906 
L 646.810294 151.809856 
L 648.419148 158.657338 
L 649.223575 165.270331 
L 650.028002 159.643057 
L 652.441283 165.08229 
L 653.24571 172.119615 
L 654.050137 172.446173 
L 654.854564 181.263458 
L 655.658991 180.335464 
L 656.463418 183.253935 
L 657.267845 182.813401 
L 658.072272 190.661113 
L 658.876699 194.431219 
L 659.681126 196.531318 
L 660.485553 202.870959 
L 661.289981 199.177815 
L 662.094408 205.071941 
L 662.898835 204.156969 
L 663.703262 209.71283 
L 664.507689 209.074639 
L 665.312116 211.340887 
L 666.116543 211.724048 
L 666.92097 214.024996 
L 667.725397 217.205687 
L 668.529824 217.461475 
L 669.334251 222.411523 
L 670.138678 221.974254 
L 670.943105 220.979386 
L 671.747532 217.526533 
L 672.551959 220.292244 
L 673.356386 221.958133 
L 674.160813 222.848333 
L 674.96524 223.572241 
L 675.769667 224.997602 
L 677.378521 228.725982 
L 678.182948 232.574214 
L 678.987375 234.605821 
L 679.791802 236.309953 
L 680.596229 237.235113 
L 681.400656 238.958969 
L 682.205083 236.206248 
L 683.00951 236.01421 
L 683.813938 229.91154 
L 684.618365 229.648382 
L 685.422792 227.625253 
L 686.227219 222.487259 
L 687.031646 228.702026 
L 687.836073 229.760312 
L 688.6405 229.590199 
L 689.444927 230.804473 
L 690.249354 237.571558 
L 691.053781 240.361743 
L 691.858208 244.848614 
L 692.662635 252.622699 
L 693.467062 255.330654 
L 694.271489 256.748759 
L 695.075916 250.418111 
L 695.880343 252.329581 
L 696.68477 251.070462 
L 697.489197 253.351443 
L 698.293624 247.409143 
L 699.902478 245.457494 
L 700.706905 239.033295 
L 702.315759 233.584151 
L 703.120186 231.48656 
L 703.924613 232.569879 
L 704.72904 237.759087 
L 705.533468 231.701295 
L 706.337895 229.249597 
L 707.946749 220.192446 
L 708.751176 215.774333 
L 709.555603 214.701087 
L 710.36003 216.92423 
L 711.164457 217.066789 
L 711.968884 216.325581 
L 712.773311 205.884298 
L 713.577738 205.032385 
L 714.382165 207.241766 
L 715.186592 206.846429 
L 715.991019 209.362686 
L 716.795446 210.105027 
L 717.599873 209.906148 
L 718.4043 208.676761 
L 719.208727 206.886917 
L 720.013154 203.819822 
L 720.817581 202.14887 
L 721.622008 199.900262 
L 722.426435 194.323835 
L 723.230862 191.124852 
L 724.035289 190.59899 
L 724.839716 189.452627 
L 725.644143 187.605351 
L 726.44857 188.302506 
L 727.252997 191.495073 
L 728.057425 188.958668 
L 728.861852 192.012353 
L 729.666279 191.125029 
L 730.470706 192.154182 
L 731.275133 189.774084 
L 732.07956 189.416142 
L 732.883987 187.131787 
L 733.688414 181.719771 
L 734.492841 180.536941 
L 735.297268 179.719064 
L 736.101695 180.016168 
L 736.906122 178.481927 
L 737.710549 174.579543 
L 738.514976 175.086845 
L 739.319403 176.328134 
L 740.12383 169.288948 
L 740.928257 169.893918 
L 741.732684 169.113549 
L 742.537111 166.40598 
L 743.341538 157.312757 
L 744.145965 154.605594 
L 744.950392 147.346052 
L 745.754819 148.077043 
L 746.559246 149.107973 
L 747.363673 145.073932 
L 748.1681 145.843647 
L 748.972527 141.992734 
L 749.776954 139.08182 
L 750.581382 141.710897 
L 751.385809 141.1383 
L 752.994663 142.404501 
L 753.79909 140.826295 
L 754.603517 138.070278 
L 755.407944 140.748002 
L 757.016798 135.250568 
L 757.821225 139.053874 
L 758.625652 136.243961 
L 759.430079 137.899707 
L 760.234506 137.061833 
L 761.038933 138.622887 
L 761.84336 136.960298 
L 763.452214 134.004328 
L 764.256641 135.237384 
L 765.061068 135.865912 
L 765.865495 136.94518 
L 766.669922 132.17216 
L 767.474349 133.304445 
L 768.278776 129.23147 
L 769.083203 128.911287 
L 769.88763 129.863972 
L 770.692057 129.450784 
L 771.496484 129.18313 
L 772.300911 125.354071 
L 773.105339 125.858548 
L 773.909766 124.396027 
L 774.714193 129.449036 
L 775.51862 127.275762 
L 776.323047 128.93534 
L 777.127474 124.376733 
L 777.931901 124.651632 
L 778.736328 123.153191 
L 779.540755 117.199517 
L 780.345182 119.606398 
L 781.149609 120.37903 
L 782.758463 114.586806 
L 783.56289 112.525618 
L 784.367317 113.368612 
L 785.171744 116.39094 
L 785.976171 115.546605 
L 786.780598 117.401512 
L 787.585025 127.453068 
L 788.389452 127.370959 
L 789.193879 131.110058 
L 789.998306 130.964637 
L 790.802733 130.504735 
L 791.60716 137.68715 
L 792.411587 136.504271 
L 793.216014 135.080482 
L 794.020441 141.472252 
L 794.824868 143.579429 
L 795.629296 147.556079 
L 796.433723 152.382507 
L 797.23815 153.361727 
L 798.847004 167.397035 
L 799.651431 166.104785 
L 801.260285 176.517579 
L 802.064712 172.409698 
L 802.869139 171.744001 
L 803.673566 167.588945 
L 804.477993 170.07448 
L 805.28242 168.972691 
L 806.891274 164.787951 
L 809.304555 171.105559 
L 810.108982 164.377262 
L 810.913409 163.338123 
L 811.717836 156.908479 
L 812.522263 157.97796 
L 813.32669 155.995933 
L 815.739971 138.258602 
L 817.348825 122.843748 
L 818.153253 128.374834 
L 818.95768 126.806599 
L 819.762107 129.189249 
L 820.566534 120.423912 
L 821.370961 119.084732 
L 822.175388 126.041819 
L 822.979815 126.426848 
L 824.588669 134.393259 
L 825.393096 139.481972 
L 826.197523 140.04739 
L 827.00195 141.239585 
L 827.806377 143.72315 
L 828.610804 148.945231 
L 829.415231 151.311982 
L 830.219658 151.500063 
L 831.024085 154.606248 
L 831.828512 154.05954 
L 832.632939 156.737403 
L 833.437366 154.144883 
L 834.241793 156.266619 
L 835.04622 157.02987 
L 835.850647 159.19246 
L 836.655074 158.559762 
L 837.459501 160.342734 
L 838.263928 161.284498 
L 839.068355 165.317063 
L 839.872782 163.713043 
L 840.67721 165.372896 
L 841.481637 173.68721 
L 842.286064 176.861303 
L 843.090491 179.578535 
L 843.894918 179.585566 
L 844.699345 180.56595 
L 845.503772 181.822317 
L 846.308199 184.085949 
L 847.112626 183.886031 
L 847.917053 188.8927 
L 848.72148 188.028357 
L 849.525907 189.488269 
L 850.330334 189.93509 
L 851.134761 188.479644 
L 851.939188 188.837148 
L 852.743615 193.214815 
L 854.352469 189.786326 
L 855.156896 191.213314 
L 855.961323 189.08497 
L 856.76575 188.202233 
L 857.570177 181.553587 
L 858.374604 180.37843 
L 859.179031 185.235302 
L 859.983458 185.489108 
L 860.787885 181.670486 
L 861.592312 182.35811 
L 862.39674 183.989211 
L 863.201167 180.598583 
L 864.005594 178.539544 
L 864.810021 175.835423 
L 865.614448 181.490063 
L 866.418875 181.779169 
L 867.223302 178.693063 
L 868.027729 178.99414 
L 868.832156 177.93901 
L 869.636583 180.508662 
L 870.44101 176.102306 
L 871.245437 170.806172 
L 872.049864 168.697376 
L 872.854291 168.965219 
L 873.658718 161.417992 
L 874.463145 160.403842 
L 875.267572 157.176535 
L 876.071999 154.835208 
L 876.876426 150.406591 
L 877.680853 143.395329 
L 878.48528 142.322839 
L 879.289707 143.555543 
L 880.094134 143.940955 
L 880.898561 135.488539 
L 881.702988 135.553288 
L 882.507415 130.900892 
L 883.311842 129.692427 
L 884.116269 127.415125 
L 884.920697 129.438146 
L 885.725124 129.268548 
L 886.529551 130.210598 
L 887.333978 128.567834 
L 888.138405 127.37114 
L 888.942832 127.842495 
L 889.747259 125.298505 
L 890.551686 128.382453 
L 891.356113 126.97915 
L 892.16054 123.784966 
L 892.964967 121.086169 
L 893.769394 117.926042 
L 894.573821 119.530873 
L 895.378248 120.401361 
L 896.182675 118.46278 
L 896.987102 118.844643 
L 898.595956 116.136661 
L 899.400383 115.871433 
L 900.20481 111.24482 
L 901.009237 104.451887 
L 901.813664 100.961371 
L 902.618091 96.922894 
L 903.422518 93.856746 
L 904.226945 87.373679 
L 905.031372 86.449363 
L 905.835799 86.570275 
L 906.640226 82.025972 
L 907.444654 81.403641 
L 908.249081 83.105896 
L 909.053508 88.009577 
L 909.857935 88.634603 
L 910.662362 86.216543 
L 911.466789 85.635751 
L 912.271216 89.878451 
L 913.075643 90.02108 
L 913.88007 85.147575 
L 914.684497 82.331836 
L 915.488924 77.283885 
L 916.293351 77.242738 
L 917.097778 77.518556 
L 917.902205 82.425514 
L 918.706632 76.678234 
L 919.511059 73.929935 
L 920.315486 68.339595 
L 921.119913 68.08742 
L 921.92434 68.827513 
L 922.728767 72.27074 
L 924.337621 67.772192 
L 925.142048 64.248407 
L 925.946475 59.493147 
L 926.750902 64.014192 
L 927.555329 61.550862 
L 928.359756 63.259163 
L 929.164183 61.613575 
L 929.968611 61.982216 
L 930.773038 56.591447 
L 931.577465 62.179731 
L 932.381892 65.554219 
L 933.186319 66.378531 
L 933.990746 63.340818 
L 934.795173 61.76745 
L 935.5996 67.102861 
L 936.404027 65.39456 
L 937.208454 64.142942 
L 938.012881 66.126577 
L 938.817308 64.605406 
L 939.621735 63.362797 
L 940.426162 63.685416 
L 941.230589 61.824415 
L 942.035016 63.536589 
L 942.839443 62.169694 
L 943.64387 58.26875 
L 944.448297 58.26875 
L 945.252724 63.963637 
L 946.057151 60.859802 
L 946.861578 62.376201 
L 947.666005 58.030525 
L 948.470432 59.880699 
L 950.079286 74.957679 
L 952.492568 90.269995 
L 953.296995 87.802157 
L 954.101422 89.631833 
L 954.905849 94.29607 
L 955.710276 96.765502 
L 956.514703 94.804734 
L 958.123557 86.10914 
L 958.927984 88.526251 
L 959.732411 87.182122 
L 960.536838 87.815031 
L 961.341265 91.659355 
L 962.145692 94.932379 
L 962.950119 93.577533 
L 963.754546 99.674678 
L 964.558973 95.980634 
L 965.3634 98.419558 
L 966.167827 104.404789 
L 966.972254 99.749337 
L 967.776681 101.483723 
L 968.581108 101.482001 
L 969.385535 105.425995 
L 970.189962 107.749427 
L 970.994389 132.036766 
L 971.798816 152.583317 
L 972.603243 179.717253 
L 973.40767 202.871286 
L 973.40767 202.871286 
" clip-path="url(#p97eadddab8)" style="fill: none; stroke: #ff0000; stroke-width: 2; stroke-linecap: square"/>
   </g>
   <g id="patch_9">
    <path d="M 552.375 321.0578 L 552.375 22.5578" style="fill: none; stroke: #000000; stroke-width: 0.8; stroke-linejoin: miter; stroke-linecap: square"/>
   </g>
   <g id="patch_10">
    <path d="M 994.125 321.0578 L 994.125 22.5578" style="fill: none; stroke: #000000; stroke-width: 0.8; stroke-linejoin: miter; stroke-linecap: square"/>
   </g>
   <g id="patch_11">
    <path d="M 552.375 321.0578 L 994.125 321.0578" style="fill: none; stroke: #000000; stroke-width: 0.8; stroke-linejoin: miter; stroke-linecap: square"/>
   </g>
   <g id="patch_12">
    <path d="M 552.375 22.5578 L 994.125 22.5578" style="fill: none; stroke: #000000; stroke-width: 0.8; stroke-linejoin: miter; stroke-linecap: square"/>
   </g>
   <g id="text_29">
    <text style="font-size: 12px; font-family: 'DejaVu Sans', 'Liberation Sans', sans-serif; text-anchor: middle" x="772.3826" y="17.1583">Moving Average Filter</text>
   </g>
   <g id="legend_2">
    <g id="patch_13">
     <path d="M 835.125 315.8078 L 986.625 315.8078 Q 988.875 315.8078 988.875 314.3078 L 988.875 285.8078 Q 988.875 283.5578 986.625 283.5578 L 835.125 283.5578 Q 832.875 283.5578 832.875 285.8078 L 832.875 314.3078 Q 832.875 315.8078 835.125 315.8078 z" style="fill: #ffffff; opacity: 0.8; stroke: #cccccc; stroke-linejoin: miter"/>
    </g>
    <g id="line2d_49">
     <path d="M 836.5375 291.8078 L 846.5375 291.8078 L 856.5375 291.8078" style="fill: none; stroke: #1f77b4; stroke-opacity: 0.4; stroke-linecap: square"/>
    </g>
    <g id="text_30">
     <text style="font-size: 10px; font-family: 'DejaVu Sans', 'Liberation Sans', sans-serif; text-anchor: start" x="864.2872" y="295.5071">Raw</text>
    </g>
    <g id="line2d_50">
     <path d="M 836.5375 306.0578 L 846.5375 306.0578 L 856.5375 306.0578" style="fill: none; stroke: #ff0000; stroke-width: 2; stroke-linecap: square"/>
    </g>
    <g id="text_31">
     <text style="font-size: 10px; font-family: 'DejaVu Sans', 'Liberation Sans', sans-serif; text-anchor: start" x="864.7271" y="309.9716">Moving Average (N=10)</text>
    </g>
   </g>
  </g>
  <g id="axes_3">
   <g id="patch_14">
    <path d="M 53.328125 675.218125 
L 494.878125 675.218125 
L 494.878125 376.918125 
L 53.328125 376.918125 
z
" style="fill: #ffffff"/>
   </g>
   <g id="matplotlib.axis_5">
    <g id="xtick_13">
     <g id="line2d_51">
      <path d="M 73.875 675.2181 L 73.875 376.9181" clip-path="url(#p6b61f9d24d)" style="fill: none; stroke: #b0b0b0; stroke-opacity: 0.3; stroke-width: 0.8; stroke-linecap: square"/>
     </g>
     <g id="line2d_52">
      <g>
       <use href="#m572e7fd0fb" x="73.875" y="675.8078" style="stroke: #000000; stroke-width: 0.8"/>
      </g>
     </g>
     <g id="text_32">
      <text style="font-size: 10px; font-family: 'DejaVu Sans', 'Liberation Sans', sans-serif; text-anchor: middle" x="74.492" y="690.328">0</text>
     </g>
    </g>
    <g id="xtick_14">
     <g id="line2d_53">
      <path d="M 154.125 675.2181 L 154.125 376.9181" clip-path="url(#p6b61f9d24d)" style="fill: none; stroke: #b0b0b0; stroke-opacity: 0.3; stroke-width: 0.8; stroke-linecap: square"/>
     </g>
     <g id="line2d_54">
      <g>
       <use href="#m572e7fd0fb" x="154.125" y="675.8078" style="stroke: #000000; stroke-width: 0.8"/>
      </g>
     </g>
     <g id="text_33">
      <text style="font-size: 10px; font-family: 'DejaVu Sans', 'Liberation Sans', sans-serif; text-anchor: middle" x="153.9066" y="689.7746">1</text>
     </g>
    </g>
    <g id="xtick_15">
     <g id="line2d_55">
      <path d="M 234.375 675.2181 L 234.375 376.9181" clip-path="url(#p6b61f9d24d)" style="fill: none; stroke: #b0b0b0; stroke-opacity: 0.3; stroke-width: 0.8; stroke-linecap: square"/>
     </g>
     <g id="line2d_56">
      <g>
       <use href="#m572e7fd0fb" x="234.375" y="675.8078" style="stroke: #000000; stroke-width: 0.8"/>
      </g>
     </g>
     <g id="text_34">
      <text style="font-size: 10px; font-family: 'DejaVu Sans', 'Liberation Sans', sans-serif; text-anchor: middle" x="234.2874" y="689.8562">2</text>
     </g>
    </g>
    <g id="xtick_16">
     <g id="line2d_57">
      <path d="M 314.625 675.2181 L 314.625 376.9181" clip-path="url(#p6b61f9d24d)" style="fill: none; stroke: #b0b0b0; stroke-opacity: 0.3; stroke-width: 0.8; stroke-linecap: square"/>
     </g>
     <g id="line2d_58">
      <g>
       <use href="#m572e7fd0fb" x="314.625" y="675.8078" style="stroke: #000000; stroke-width: 0.8"/>
      </g>
     </g>
     <g id="text_35">
      <text style="font-size: 10px; font-family: 'DejaVu Sans', 'Liberation Sans', sans-serif; text-anchor: middle" x="314.4795" y="689.8385">3</text>
     </g>
    </g>
    <g id="xtick_17">
     <g id="line2d_59">
      <path d="M 394.875 675.2181 L 394.875 376.9181" clip-path="url(#p6b61f9d24d)" style="fill: none; stroke: #b0b0b0; stroke-opacity: 0.3; stroke-width: 0.8; stroke-linecap: square"/>
     </g>
     <g id="line2d_60">
      <g>
       <use href="#m572e7fd0fb" x="394.875" y="675.8078" style="stroke: #000000; stroke-width: 0.8"/>
      </g>
     </g>
     <g id="text_36">
      <text style="font-size: 10px; font-family: 'DejaVu Sans', 'Liberation Sans', sans-serif; text-anchor: middle" x="395.3879" y="689.9129">4</text>
     </g>
    </g>
    <g id="xtick_18">
     <g id="line2d_61">
      <path d="M 475.125 675.2181 L 475.125 376.9181" clip-path="url(#p6b61f9d24d)" style="fill: none; stroke: #b0b0b0; stroke-opacity: 0.3; stroke-width: 0.8; stroke-linecap: square"/>
     </g>
     <g id="line2d_62">
      <g>
       <use href="#m572e7fd0fb" x="475.125" y="675.8078" style="stroke: #000000; stroke-width: 0.8"/>
      </g>
     </g>
     <g id="text_37">
      <text style="font-size: 10px; font-family: 'DejaVu Sans', 'Liberation Sans', sans-serif; text-anchor: middle" x="474.9582" y="689.8576">5</text>
     </g>
    </g>
    <g id="text_38">
     <text style="font-size: 10px; font-family: 'DejaVu Sans', 'Liberation Sans', sans-serif; text-anchor: middle" x="274.2772" y="704.161">Time (s)</text>
    </g>
   </g>
   <g id="matplotlib.axis_6">
    <g id="ytick_11">
     <g id="line2d_63">
      <path d="M 53.3281 624.8078 L 494.8781 624.8078" clip-path="url(#p6b61f9d24d)" style="fill: none; stroke: #b0b0b0; stroke-opacity: 0.3; stroke-width: 0.8; stroke-linecap: square"/>
     </g>
     <g id="line2d_64">
      <g>
       <use href="#m8037495adb" x="53.625" y="624.8078" style="stroke: #000000; stroke-width: 0.8"/>
      </g>
     </g>
     <g id="text_39">
      <text style="font-size: 10px; font-family: 'DejaVu Sans', 'Liberation Sans', sans-serif; text-anchor: end" x="46.2723" y="628.9776">200</text>
     </g>
    </g>
    <g id="ytick_12">
     <g id="line2d_65">
      <path d="M 53.3281 567.8078 L 494.8781 567.8078" clip-path="url(#p6b61f9d24d)" style="fill: none; stroke: #b0b0b0; stroke-opacity: 0.3; stroke-width: 0.8; stroke-linecap: square"/>
     </g>
     <g id="line2d_66">
      <g>
       <use href="#m8037495adb" x="53.625" y="567.8078" style="stroke: #000000; stroke-width: 0.8"/>
      </g>
     </g>
     <g id="text_40">
      <text style="font-size: 10px; font-family: 'DejaVu Sans', 'Liberation Sans', sans-serif; text-anchor: end" x="46.2899" y="572.113">400</text>
     </g>
    </g>
    <g id="ytick_13">
     <g id="line2d_67">
      <path d="M 53.3281 511.5578 L 494.8781 511.5578" clip-path="url(#p6b61f9d24d)" style="fill: none; stroke: #b0b0b0; stroke-opacity: 0.3; stroke-width: 0.8; stroke-linecap: square"/>
     </g>
     <g id="line2d_68">
      <g>
       <use href="#m8037495adb" x="53.625" y="511.5578" style="stroke: #000000; stroke-width: 0.8"/>
      </g>
     </g>
     <g id="text_41">
      <text style="font-size: 10px; font-family: 'DejaVu Sans', 'Liberation Sans', sans-serif; text-anchor: end" x="46.5833" y="515.4093">600</text>
     </g>
    </g>
    <g id="ytick_14">
     <g id="line2d_69">
      <path d="M 53.3281 454.5578 L 494.8781 454.5578" clip-path="url(#p6b61f9d24d)" style="fill: none; stroke: #b0b0b0; stroke-opacity: 0.3; stroke-width: 0.8; stroke-linecap: square"/>
     </g>
     <g id="line2d_70">
      <g>
       <use href="#m8037495adb" x="53.625" y="454.5578" style="stroke: #000000; stroke-width: 0.8"/>
      </g>
     </g>
     <g id="text_42">
      <text style="font-size: 10px; font-family: 'DejaVu Sans', 'Liberation Sans', sans-serif; text-anchor: end" x="46.4722" y="458.2917">800</text>
     </g>
    </g>
    <g id="ytick_15">
     <g id="line2d_71">
      <path d="M 53.3281 397.5578 L 494.8781 397.5578" clip-path="url(#p6b61f9d24d)" style="fill: none; stroke: #b0b0b0; stroke-opacity: 0.3; stroke-width: 0.8; stroke-linecap: square"/>
     </g>
     <g id="line2d_72">
      <g>
       <use href="#m8037495adb" x="53.625" y="397.5578" style="stroke: #000000; stroke-width: 0.8"/>
      </g>
     </g>
     <g id="text_43">
      <text style="font-size: 10px; font-family: 'DejaVu Sans', 'Liberation Sans', sans-serif; text-anchor: end" x="45.9663" y="401.2152">1000</text>
     </g>
    </g>
    <g id="text_44">
     <text style="font-size: 10px; font-family: 'DejaVu Sans', 'Liberation Sans', sans-serif; text-anchor: middle" x="14.3939" y="527.4415" transform="rotate(-90 14.3939 527.4415)">ADC Value</text>
    </g>
   </g>
   <g id="line2d_73">
    <path d="M 73.39858 564.757566 
L 74.203007 547.242111 
L 75.007434 564.734687 
L 75.811861 542.71066 
L 77.420715 532.82459 
L 78.225142 529.453177 
L 79.029569 494.727535 
L 79.833996 570.340058 
L 80.638423 519.973189 
L 81.44285 517.48324 
L 82.247277 481.997187 
L 83.051704 530.231864 
L 83.856131 503.766159 
L 84.660558 524.703704 
L 85.464985 490.978392 
L 86.269412 521.352884 
L 87.073839 497.42963 
L 87.878266 496.656146 
L 88.682693 487.505916 
L 89.48712 525.784851 
L 90.291547 505.635802 
L 91.095974 482.079543 
L 91.900401 538.307467 
L 92.704828 543.726496 
L 93.509255 524.050076 
L 94.313682 523.510432 
L 95.11811 525.813358 
L 95.922537 494.199315 
L 96.726964 485.667761 
L 97.531391 511.150751 
L 98.335818 511.042824 
L 99.140245 397.02269 
L 99.944672 493.112574 
L 100.749099 508.00746 
L 101.553526 511.949145 
L 102.357953 505.759174 
L 103.16238 513.133525 
L 103.966807 453.77202 
L 104.771234 463.928927 
L 105.575661 510.411099 
L 106.380088 465.175959 
L 107.184515 448.304173 
L 107.988942 467.509404 
L 108.793369 499.93676 
L 109.597796 447.561444 
L 110.402223 478.85251 
L 111.20665 490.192015 
L 112.011077 459.731394 
L 114.424358 505.112272 
L 115.228785 465.357607 
L 116.033212 501.089129 
L 116.837639 475.671958 
L 117.642067 501.074256 
L 118.446494 475.327306 
L 119.250921 459.76625 
L 120.055348 491.146628 
L 120.859775 508.636432 
L 121.664202 503.190665 
L 123.273056 477.759358 
L 124.077483 495.896605 
L 124.88191 474.745368 
L 125.686337 450.059787 
L 126.490764 461.225108 
L 127.295191 470.017943 
L 128.099618 496.530553 
L 128.904045 489.488546 
L 129.708472 511.461609 
L 130.512899 461.158175 
L 131.317326 497.103128 
L 132.121753 527.118576 
L 132.92618 478.520205 
L 133.730607 473.589752 
L 134.535034 524.025035 
L 135.339461 506.773298 
L 136.143888 475.802331 
L 136.948315 513.501349 
L 137.752742 544.778022 
L 138.557169 473.860194 
L 139.361596 531.872055 
L 140.166024 530.274377 
L 140.970451 494.748127 
L 141.774878 485.853456 
L 143.383732 531.217836 
L 144.188159 498.372658 
L 144.992586 516.40023 
L 145.797013 480.845622 
L 146.60144 550.321471 
L 147.405867 508.139424 
L 148.210294 526.374596 
L 149.014721 486.150204 
L 149.819148 486.864242 
L 150.623575 511.152775 
L 151.428002 499.477336 
L 152.232429 532.588518 
L 153.036856 550.659196 
L 153.841283 546.975545 
L 154.64571 494.048733 
L 155.450137 526.863152 
L 156.254564 545.548241 
L 157.058991 502.645163 
L 157.863418 557.237495 
L 158.667845 514.418355 
L 159.472272 587.650183 
L 160.276699 523.30858 
L 161.081126 579.843907 
L 161.885553 542.570202 
L 162.689981 572.525852 
L 163.494408 564.564213 
L 164.298835 566.549229 
L 165.103262 566.041569 
L 165.907689 520.306059 
L 166.712116 573.359615 
L 167.516543 578.500463 
L 168.32097 578.867193 
L 169.125397 573.461991 
L 169.929824 565.232686 
L 172.343105 598.356138 
L 173.147532 568.599454 
L 173.951959 569.806535 
L 174.756386 568.986922 
L 175.560813 568.551788 
L 176.36524 544.338664 
L 177.169667 601.119102 
L 177.974094 581.891569 
L 178.778521 585.259469 
L 179.582948 594.812771 
L 180.387375 612.609743 
L 181.191802 586.549766 
L 181.996229 589.140021 
L 182.800656 607.469246 
L 183.605083 588.867857 
L 184.40951 561.379986 
L 185.213938 610.370701 
L 186.018365 599.130125 
L 186.822792 557.732261 
L 187.627219 592.892388 
L 188.431646 551.583046 
L 189.236073 583.918186 
L 190.0405 568.90873 
L 190.844927 556.089314 
L 191.649354 651.015525 
L 192.453781 571.962841 
L 193.258208 608.66958 
L 194.062635 611.27286 
L 194.867062 625.403113 
L 195.671489 620.794233 
L 196.475916 596.451757 
L 197.280343 661.659034 
L 198.08477 595.988289 
L 198.889197 570.270364 
L 199.693624 587.709038 
L 200.498051 591.077546 
L 201.302478 596.078385 
L 202.106905 634.082669 
L 202.911332 565.980118 
L 203.715759 610.401327 
L 204.520186 587.328174 
L 205.324613 597.417038 
L 206.933468 542.73019 
L 207.737895 566.733124 
L 208.542322 601.910741 
L 209.346749 647.970457 
L 210.151176 573.504753 
L 210.955603 541.463134 
L 211.76003 567.526213 
L 212.564457 539.631785 
L 213.368884 553.235899 
L 214.173311 558.304578 
L 214.977738 564.961616 
L 215.782165 568.158716 
L 216.586592 594.498663 
L 217.391019 543.55762 
L 218.195446 564.98563 
L 218.999873 563.556938 
L 219.8043 563.572844 
L 220.608727 564.794354 
L 223.022008 552.667746 
L 223.826435 550.260281 
L 224.630862 563.827706 
L 225.435289 526.848099 
L 226.239716 542.499556 
L 227.044143 507.792667 
L 227.84857 531.583012 
L 228.652997 559.535735 
L 230.261852 537.843022 
L 231.870706 582.185952 
L 232.675133 538.463656 
L 233.47956 557.384941 
L 234.283987 533.626323 
L 235.088414 518.084196 
L 235.892841 507.782028 
L 236.697268 555.956315 
L 237.501695 526.352137 
L 238.306122 483.722861 
L 239.110549 547.811 
L 239.914976 574.007179 
L 240.719403 541.434705 
L 241.52383 542.042521 
L 242.328257 494.602491 
L 243.132684 523.157213 
L 243.937111 520.194919 
L 244.741538 485.564452 
L 245.545965 532.401838 
L 246.350392 475.919174 
L 247.154819 520.735304 
L 247.959246 483.074956 
L 248.763673 514.363068 
L 249.5681 469.44711 
L 251.176954 533.466515 
L 251.981382 479.854503 
L 252.785809 493.261602 
L 253.590236 493.892707 
L 254.394663 446.810034 
L 255.19909 547.026074 
L 256.003517 477.348987 
L 256.807944 520.397134 
L 257.612371 476.075052 
L 258.416798 486.130336 
L 259.221225 505.906345 
L 260.025652 506.631744 
L 260.830079 465.264857 
L 261.634506 466.91512 
L 262.438933 484.843086 
L 263.24336 518.926952 
L 264.047787 493.906443 
L 264.852214 512.018399 
L 266.461068 469.50444 
L 267.265495 491.985177 
L 268.069922 490.993214 
L 268.874349 477.595417 
L 269.678776 473.200397 
L 270.483203 495.635772 
L 271.28763 471.196751 
L 272.092057 505.229289 
L 272.896484 471.288656 
L 273.700911 488.483757 
L 274.505339 479.031289 
L 275.309766 487.853293 
L 276.114193 488.316674 
L 276.91862 439.304828 
L 277.723047 478.245171 
L 278.527474 481.010564 
L 279.331901 521.726834 
L 280.136328 483.496556 
L 280.940755 487.884437 
L 281.745182 442.897683 
L 282.549609 481.78028 
L 283.354036 472.868879 
L 284.158463 428.779934 
L 284.96289 463.373641 
L 285.767317 485.971492 
L 286.571744 453.486731 
L 287.376171 491.328422 
L 288.180598 462.884683 
L 288.985025 496.314372 
L 289.789452 473.120963 
L 290.593879 473.336927 
L 291.398306 491.417951 
L 292.202733 529.295496 
L 293.00716 462.552552 
L 293.811587 523.362485 
L 294.616014 452.032522 
L 295.420441 486.729395 
L 296.224868 534.70883 
L 297.029296 484.485585 
L 297.833723 458.883073 
L 298.63815 537.25463 
L 299.442577 512.489717 
L 300.247004 569.061996 
L 301.051431 510.816836 
L 301.855858 533.154688 
L 302.660285 518.197762 
L 303.464712 560.917231 
L 304.269139 521.786336 
L 305.073566 538.063913 
L 305.877993 509.432679 
L 306.68242 496.175819 
L 307.486847 505.832752 
L 308.291274 527.51144 
L 309.095701 535.672182 
L 309.900128 522.136795 
L 310.704555 496.564601 
L 311.508982 540.702999 
L 312.313409 542.724616 
L 313.117836 557.17246 
L 313.922263 532.561926 
L 314.72669 428.892856 
L 315.531117 495.441353 
L 316.335544 463.214999 
L 317.139971 546.366999 
L 317.944398 502.316523 
L 318.748825 437.807223 
L 319.553253 473.817747 
L 320.35768 490.993932 
L 321.162107 479.715453 
L 321.966534 455.870393 
L 322.770961 484.203721 
L 323.575388 479.759004 
L 324.379815 487.041495 
L 325.184242 458.713633 
L 325.988669 488.92472 
L 326.793096 507.378096 
L 327.597523 477.668037 
L 328.40195 530.685298 
L 329.206377 519.688196 
L 330.010804 506.757527 
L 330.815231 489.857897 
L 331.619658 491.680955 
L 332.424085 511.877147 
L 333.228512 510.934438 
L 334.032939 512.592228 
L 334.837366 509.258904 
L 335.641793 508.729892 
L 336.44622 525.218218 
L 337.250647 546.466822 
L 338.055074 480.832325 
L 338.859501 511.075263 
L 339.663928 499.313458 
L 340.468355 533.503052 
L 341.272782 504.607459 
L 342.07721 530.421948 
L 342.881637 518.676543 
L 343.686064 549.055542 
L 344.490491 509.178014 
L 345.294918 563.065356 
L 346.099345 563.97547 
L 346.903772 542.81619 
L 347.708199 526.485774 
L 348.512626 533.573362 
L 349.317053 514.411302 
L 350.12148 542.985622 
L 350.925907 541.312861 
L 351.730334 547.056362 
L 352.534761 559.244704 
L 353.339188 554.421924 
L 354.143615 578.574586 
L 355.752469 511.931315 
L 356.556896 537.148403 
L 357.361323 558.187977 
L 358.16575 524.489558 
L 358.970177 525.524026 
L 359.774604 561.326249 
L 360.579031 537.961263 
L 361.383458 545.594556 
L 362.187885 512.088126 
L 363.79674 560.500032 
L 365.405594 520.001752 
L 367.014448 541.835035 
L 367.818875 527.419972 
L 368.623302 517.370874 
L 369.427729 518.553345 
L 370.232156 568.634527 
L 371.036583 538.423888 
L 371.84101 529.63897 
L 372.645437 542.697239 
L 373.449864 509.450452 
L 374.254291 557.062319 
L 375.058718 497.771478 
L 375.863145 474.458634 
L 376.667572 496.282908 
L 377.471999 521.231776 
L 378.276426 493.162257 
L 379.080853 528.282391 
L 379.88528 497.365898 
L 380.689707 519.283963 
L 381.494134 465.164291 
L 382.298561 486.949692 
L 383.102988 487.046583 
L 383.907415 486.785669 
L 384.711842 500.137032 
L 385.516269 436.707615 
L 386.320697 493.809747 
L 387.125124 481.758426 
L 387.929551 485.28125 
L 388.733978 496.510941 
L 389.538405 485.394507 
L 390.342832 485.253711 
L 391.147259 496.467081 
L 391.951686 470.358027 
L 392.756113 488.170096 
L 393.56054 441.421162 
L 394.364967 468.369849 
L 395.169394 512.597904 
L 395.973821 471.248222 
L 397.582675 458.406541 
L 398.387102 453.652443 
L 399.191529 512.51539 
L 399.995956 479.062904 
L 400.800383 468.784281 
L 401.60481 445.239797 
L 402.409237 455.123166 
L 403.213664 498.764768 
L 404.018091 468.595937 
L 404.822518 418.302972 
L 405.626945 390.477216 
L 406.431372 418.747276 
L 407.235799 472.130621 
L 408.040226 448.401425 
L 408.844654 403.953613 
L 409.649081 435.996638 
L 410.453508 456.332288 
L 411.257935 453.321731 
L 412.062362 462.372626 
L 412.866789 435.325521 
L 413.671216 439.51403 
L 414.475643 424.997537 
L 415.28007 447.950017 
L 416.084497 442.59351 
L 416.888924 446.380609 
L 417.693351 437.422928 
L 418.497778 407.597242 
L 419.302205 425.164343 
L 420.106632 411.89311 
L 420.911059 434.91405 
L 421.715486 442.272217 
L 422.519913 474.067114 
L 423.32434 390.477216 
L 424.128767 415.110518 
L 424.933194 390.477216 
L 425.737621 434.901178 
L 426.542048 414.998165 
L 427.346475 459.596617 
L 428.150902 390.477216 
L 428.955329 411.344467 
L 429.759756 407.034365 
L 430.564183 426.514508 
L 431.368611 435.687673 
L 432.173038 390.477216 
L 432.977465 407.560224 
L 433.781892 418.445302 
L 434.586319 418.68457 
L 435.390746 405.688929 
L 436.195173 446.360059 
L 436.9996 445.089339 
L 437.804027 415.277492 
L 438.608454 396.13737 
L 440.217308 443.831328 
L 441.021735 390.477216 
L 441.826162 405.929124 
L 442.630589 438.520915 
L 443.435016 390.477216 
L 444.239443 433.933975 
L 445.04387 448.315529 
L 445.848297 396.667476 
L 446.652724 413.259118 
L 447.457151 406.285047 
L 448.261578 404.821886 
L 449.066005 390.477216 
L 449.870432 462.877996 
L 450.674859 407.482565 
L 451.479286 405.641203 
L 452.283713 390.477216 
L 453.08814 466.817265 
L 453.892568 468.81461 
L 454.696995 491.881782 
L 455.501422 456.295667 
L 456.305849 448.441602 
L 457.110276 449.970047 
L 458.71913 425.779325 
L 459.523557 452.283579 
L 460.327984 415.171535 
L 461.132411 447.209582 
L 461.936838 425.678925 
L 462.741265 448.061528 
L 463.545692 480.466779 
L 464.350119 435.000313 
L 465.958973 476.64285 
L 467.567827 438.735117 
L 468.372254 476.142988 
L 469.176681 410.269135 
L 469.981108 450.068173 
L 470.785535 507.913831 
L 471.589962 433.912259 
L 472.394389 452.344175 
L 473.198816 456.281919 
L 474.003243 516.082792 
L 474.80767 481.743885 
L 474.80767 481.743885 
" clip-path="url(#p6b61f9d24d)" style="fill: none; stroke: #1f77b4; stroke-opacity: 0.4; stroke-linecap: square"/>
   </g>
   <g id="line2d_74">
    <path d="M 73.39858 564.757566 
L 74.203007 547.242111 
L 75.007434 547.242111 
L 76.616288 537.779922 
L 77.420715 532.82459 
L 78.225142 532.82459 
L 79.029569 529.453177 
L 79.833996 519.973189 
L 80.638423 517.48324 
L 81.44285 519.973189 
L 82.247277 517.48324 
L 83.051704 517.48324 
L 83.856131 503.766159 
L 84.660558 521.352884 
L 85.464985 503.766159 
L 86.269412 497.42963 
L 87.073839 496.656146 
L 87.878266 497.42963 
L 88.682693 497.42963 
L 89.48712 496.656146 
L 90.291547 505.635802 
L 91.095974 525.784851 
L 91.900401 524.050076 
L 92.704828 524.050076 
L 93.509255 525.813358 
L 94.313682 524.050076 
L 95.11811 523.510432 
L 95.922537 511.150751 
L 96.726964 511.042824 
L 97.531391 494.199315 
L 98.335818 493.112574 
L 99.140245 508.00746 
L 99.944672 508.00746 
L 100.749099 505.759174 
L 101.553526 508.00746 
L 102.357953 508.00746 
L 103.16238 505.759174 
L 103.966807 505.759174 
L 104.771234 465.175959 
L 105.575661 463.928927 
L 106.380088 465.175959 
L 107.184515 467.509404 
L 107.988942 465.175959 
L 108.793369 467.509404 
L 109.597796 478.85251 
L 110.402223 478.85251 
L 111.20665 474.275353 
L 112.011077 478.85251 
L 112.815504 489.974771 
L 113.619931 474.275353 
L 114.424358 489.974771 
L 115.228785 489.974771 
L 116.033212 501.074256 
L 116.837639 475.671958 
L 118.446494 475.671958 
L 119.250921 491.146628 
L 121.664202 491.146628 
L 122.468629 495.896605 
L 123.273056 490.523637 
L 124.077483 477.759358 
L 124.88191 474.745368 
L 125.686337 470.017943 
L 127.295191 470.017943 
L 128.099618 489.488546 
L 128.904045 489.488546 
L 129.708472 496.530553 
L 130.512899 497.103128 
L 131.317326 497.103128 
L 132.121753 478.520205 
L 132.92618 497.103128 
L 133.730607 506.773298 
L 134.535034 478.520205 
L 135.339461 506.773298 
L 136.143888 513.501349 
L 136.948315 506.773298 
L 137.752742 513.501349 
L 138.557169 530.274377 
L 139.361596 530.274377 
L 140.166024 494.748127 
L 140.970451 510.101794 
L 141.774878 510.101794 
L 142.579305 498.372658 
L 143.383732 510.101794 
L 144.188159 510.101794 
L 144.992586 516.40023 
L 145.797013 508.139424 
L 146.60144 516.40023 
L 147.405867 508.139424 
L 149.014721 508.139424 
L 149.819148 499.477336 
L 150.623575 499.477336 
L 151.428002 511.152775 
L 152.232429 532.588518 
L 153.841283 532.588518 
L 154.64571 545.548241 
L 155.450137 526.863152 
L 157.058991 526.863152 
L 157.863418 545.548241 
L 158.667845 523.30858 
L 159.472272 557.237495 
L 160.276699 542.570202 
L 161.081126 572.525852 
L 161.885553 564.564213 
L 162.689981 566.549229 
L 163.494408 566.041569 
L 165.103262 566.041569 
L 165.907689 566.549229 
L 166.712116 573.359615 
L 168.32097 573.461991 
L 169.125397 576.357463 
L 172.343105 576.357463 
L 173.147532 569.806535 
L 173.951959 568.986922 
L 174.756386 568.599454 
L 175.560813 568.986922 
L 176.36524 568.986922 
L 177.169667 581.891569 
L 177.974094 585.259469 
L 178.778521 594.812771 
L 179.582948 586.549766 
L 180.387375 589.140021 
L 181.191802 594.812771 
L 181.996229 589.140021 
L 182.800656 588.867857 
L 183.605083 589.140021 
L 184.40951 599.130125 
L 185.213938 588.867857 
L 186.018365 592.892388 
L 186.822792 592.892388 
L 187.627219 583.918186 
L 188.431646 568.90873 
L 190.0405 568.90873 
L 190.844927 571.962841 
L 191.649354 571.962841 
L 192.453781 608.66958 
L 193.258208 611.27286 
L 194.867062 611.27286 
L 195.671489 620.794233 
L 196.475916 620.794233 
L 197.280343 596.451757 
L 198.08477 595.988289 
L 198.889197 591.077546 
L 201.302478 591.077546 
L 202.106905 596.078385 
L 202.911332 596.078385 
L 203.715759 597.417038 
L 204.520186 587.328174 
L 205.324613 587.328174 
L 206.12904 569.037029 
L 207.737895 569.037029 
L 208.542322 573.504753 
L 210.151176 573.504753 
L 210.955603 567.526213 
L 211.76003 553.235899 
L 212.564457 553.235899 
L 213.368884 558.304578 
L 214.173311 558.304578 
L 214.977738 564.961616 
L 217.391019 564.98563 
L 218.195446 563.572844 
L 220.608727 563.556938 
L 221.413154 560.659312 
L 222.217581 556.315785 
L 223.022008 556.315785 
L 223.826435 552.667746 
L 224.630862 550.260281 
L 225.435289 542.499556 
L 226.239716 531.583012 
L 227.044143 531.583012 
L 227.84857 542.499556 
L 228.652997 537.843022 
L 230.261852 559.535735 
L 231.066279 549.195682 
L 231.870706 557.384941 
L 232.675133 557.384941 
L 233.47956 538.463656 
L 234.283987 533.626323 
L 235.088414 533.626323 
L 236.697268 518.084196 
L 237.501695 526.352137 
L 238.306122 547.811 
L 239.110549 541.434705 
L 239.914976 542.042521 
L 240.719403 542.042521 
L 241.52383 541.434705 
L 242.328257 523.157213 
L 243.132684 520.194919 
L 245.545965 520.194919 
L 246.350392 485.564452 
L 247.154819 514.363068 
L 247.959246 483.074956 
L 248.763673 501.912395 
L 250.372527 501.912395 
L 251.176954 493.261602 
L 251.981382 493.892707 
L 252.785809 493.261602 
L 254.394663 493.261602 
L 255.19909 493.892707 
L 256.003517 477.348987 
L 256.807944 486.130336 
L 257.612371 486.130336 
L 258.416798 505.906345 
L 259.221225 486.130336 
L 260.025652 486.130336 
L 260.830079 484.843086 
L 262.438933 484.843086 
L 263.24336 493.906443 
L 264.852214 493.906443 
L 265.656641 491.985177 
L 266.461068 491.685591 
L 267.265495 490.993214 
L 268.069922 477.595417 
L 268.874349 490.993214 
L 269.678776 477.595417 
L 270.483203 477.595417 
L 271.28763 473.200397 
L 272.092057 488.483757 
L 272.896484 479.031289 
L 273.700911 487.853293 
L 275.309766 487.853293 
L 276.114193 479.031289 
L 276.91862 481.010564 
L 278.527474 481.010564 
L 279.331901 483.496556 
L 280.940755 483.496556 
L 281.745182 481.78028 
L 283.354036 463.373641 
L 284.158463 472.868879 
L 284.96289 463.373641 
L 286.571744 463.373641 
L 287.376171 485.971492 
L 288.180598 473.120963 
L 288.985025 473.336927 
L 289.789452 473.336927 
L 290.593879 491.417951 
L 291.398306 473.336927 
L 292.202733 491.417951 
L 293.00716 491.417951 
L 293.811587 486.729395 
L 295.420441 486.729395 
L 296.224868 484.485585 
L 297.029296 486.729395 
L 297.833723 512.489717 
L 299.442577 512.489717 
L 300.247004 533.154688 
L 301.051431 518.197762 
L 301.855858 533.154688 
L 302.660285 521.786336 
L 303.464712 533.154688 
L 304.269139 521.786336 
L 305.073566 521.786336 
L 305.877993 509.432679 
L 307.486847 509.432679 
L 308.291274 522.136795 
L 309.095701 522.136795 
L 309.900128 527.51144 
L 310.704555 535.672182 
L 311.508982 540.702999 
L 313.117836 540.702999 
L 313.922263 532.561926 
L 314.72669 495.441353 
L 317.139971 495.441353 
L 317.944398 473.817747 
L 318.748825 490.993932 
L 319.553253 479.715453 
L 320.35768 473.817747 
L 321.162107 479.715453 
L 323.575388 479.759004 
L 324.379815 484.203721 
L 325.184242 487.041495 
L 325.988669 487.041495 
L 326.793096 488.92472 
L 327.597523 507.378096 
L 328.40195 507.378096 
L 329.206377 506.757527 
L 331.619658 506.757527 
L 332.424085 510.934438 
L 334.837366 510.934438 
L 335.641793 512.592228 
L 336.44622 509.258904 
L 337.250647 511.075263 
L 338.859501 511.075263 
L 339.663928 504.607459 
L 340.468355 511.075263 
L 341.272782 518.676543 
L 342.07721 530.421948 
L 342.881637 518.676543 
L 343.686064 530.421948 
L 344.490491 549.055542 
L 345.294918 549.055542 
L 346.099345 542.81619 
L 346.903772 542.81619 
L 347.708199 533.573362 
L 349.317053 533.573362 
L 350.12148 541.312861 
L 350.925907 542.985622 
L 351.730334 547.056362 
L 352.534761 554.421924 
L 354.143615 554.421924 
L 354.948042 547.2844 
L 355.752469 547.2844 
L 356.556896 537.148403 
L 357.361323 525.524026 
L 358.16575 537.148403 
L 358.970177 537.961263 
L 362.187885 537.961263 
L 362.992312 539.686468 
L 363.79674 535.53283 
L 364.601167 535.53283 
L 365.405594 539.686468 
L 366.210021 531.365796 
L 367.014448 527.419972 
L 369.427729 527.419972 
L 370.232156 529.63897 
L 371.036583 538.423888 
L 372.645437 538.423888 
L 373.449864 529.63897 
L 374.254291 509.450452 
L 375.058718 497.771478 
L 375.863145 497.771478 
L 376.667572 496.282908 
L 377.471999 496.282908 
L 378.276426 497.365898 
L 379.080853 519.283963 
L 379.88528 497.365898 
L 380.689707 497.365898 
L 381.494134 487.046583 
L 383.102988 486.949692 
L 384.711842 487.046583 
L 385.516269 486.785669 
L 386.320697 485.28125 
L 387.125124 485.28125 
L 387.929551 485.394507 
L 388.733978 485.28125 
L 389.538405 485.394507 
L 391.147259 485.394507 
L 391.951686 485.253711 
L 392.756113 470.358027 
L 393.56054 470.358027 
L 394.364967 471.248222 
L 395.169394 468.369849 
L 395.973821 468.369849 
L 396.778248 464.569101 
L 398.387102 464.569101 
L 399.191529 468.784281 
L 401.60481 468.784281 
L 402.409237 468.595937 
L 403.213664 455.123166 
L 404.018091 455.123166 
L 404.822518 418.747276 
L 407.235799 418.747276 
L 408.040226 435.996638 
L 408.844654 448.401425 
L 409.649081 448.401425 
L 410.453508 453.321731 
L 412.062362 453.321731 
L 412.866789 439.51403 
L 414.475643 439.51403 
L 415.28007 442.59351 
L 416.888924 442.59351 
L 417.693351 437.422928 
L 418.497778 425.164343 
L 420.106632 425.164343 
L 420.911059 434.91405 
L 422.519913 434.91405 
L 423.32434 415.110518 
L 424.128767 415.110518 
L 424.933194 414.998165 
L 425.737621 415.110518 
L 426.542048 414.998165 
L 427.346475 414.998165 
L 428.150902 411.344467 
L 430.564183 411.344467 
L 431.368611 407.560224 
L 432.173038 418.445302 
L 432.977465 418.445302 
L 433.781892 407.560224 
L 434.586319 418.445302 
L 435.390746 418.68457 
L 436.195173 418.68457 
L 436.9996 415.277492 
L 437.804027 419.953996 
L 438.608454 419.953996 
L 439.412881 415.277492 
L 440.217308 405.929124 
L 441.021735 419.953996 
L 441.826162 405.929124 
L 442.630589 405.929124 
L 443.435016 433.933975 
L 444.239443 433.933975 
L 445.04387 413.259118 
L 445.848297 413.259118 
L 446.652724 406.285047 
L 447.457151 404.821886 
L 448.261578 406.285047 
L 449.066005 406.285047 
L 449.870432 405.641203 
L 450.674859 405.641203 
L 451.479286 407.482565 
L 452.283713 407.482565 
L 453.08814 466.817265 
L 454.696995 466.817265 
L 455.501422 456.295667 
L 456.305849 449.970047 
L 457.110276 448.441602 
L 457.914703 448.441602 
L 458.71913 438.199609 
L 459.523557 438.199609 
L 460.327984 425.779325 
L 461.132411 447.209582 
L 462.741265 447.209582 
L 463.545692 448.061528 
L 464.350119 456.299135 
L 465.154546 458.509566 
L 465.958973 456.299135 
L 466.7634 458.509566 
L 467.567827 458.509566 
L 468.372254 450.068173 
L 470.785535 450.068173 
L 471.589962 452.344175 
L 472.394389 456.281919 
L 473.198816 456.281919 
L 474.003243 516.082792 
L 474.80767 481.743885 
L 474.80767 481.743885 
" clip-path="url(#p6b61f9d24d)" style="fill: none; stroke: #008000; stroke-width: 2; stroke-linecap: square"/>
   </g>
   <g id="patch_15">
    <path d="M 53.625 675.8078 L 53.625 377.3078" style="fill: none; stroke: #000000; stroke-width: 0.8; stroke-linejoin: miter; stroke-linecap: square"/>
   </g>
   <g id="patch_16">
    <path d="M 495.375 675.8078 L 495.375 377.3078" style="fill: none; stroke: #000000; stroke-width: 0.8; stroke-linejoin: miter; stroke-linecap: square"/>
   </g>
   <g id="patch_17">
    <path d="M 53.625 675.8078 L 495.375 675.8078" style="fill: none; stroke: #000000; stroke-width: 0.8; stroke-linejoin: miter; stroke-linecap: square"/>
   </g>
   <g id="patch_18">
    <path d="M 53.625 377.3078 L 495.375 377.3078" style="fill: none; stroke: #000000; stroke-width: 0.8; stroke-linejoin: miter; stroke-linecap: square"/>
   </g>
   <g id="text_45">
    <text style="font-size: 12px; font-family: 'DejaVu Sans', 'Liberation Sans', sans-serif; text-anchor: middle" x="274.8234" y="371.0613">Median Filter (Best for Spikes)</text>
   </g>
   <g id="legend_3">
    <g id="patch_19">
     <path d="M 60.375 670.5578 L 162.375 670.5578 Q 164.625 670.5578 164.625 668.3078 L 164.625 640.5578 Q 164.625 638.3078 162.375 638.3078 L 60.375 638.3078 Q 58.875 638.3078 58.875 640.5578 L 58.875 668.3078 Q 58.875 670.5578 60.375 670.5578 z" style="fill: #ffffff; opacity: 0.8; stroke: #cccccc; stroke-linejoin: miter"/>
    </g>
    <g id="line2d_75">
     <path d="M 62.3281 645.8078 L 72.3281 645.8078 L 82.3281 645.8078" style="fill: none; stroke: #1f77b4; stroke-opacity: 0.4; stroke-linecap: square"/>
    </g>
    <g id="text_46">
     <text style="font-size: 10px; font-family: 'DejaVu Sans', 'Liberation Sans', sans-serif; text-anchor: start" x="90.2821" y="649.3339">Raw</text>
    </g>
    <g id="line2d_76">
     <path d="M 62.3281 660.8078 L 72.3281 660.8078 L 82.3281 660.8078" style="fill: none; stroke: #008000; stroke-width: 2; stroke-linecap: square"/>
    </g>
    <g id="text_47">
     <text style="font-size: 10px; font-family: 'DejaVu Sans', 'Liberation Sans', sans-serif; text-anchor: start" x="90.7698" y="664.7699">Median (N=5)</text>
    </g>
   </g>
  </g>
  <g id="axes_4">
   <g id="patch_20">
    <path d="M 551.928125 675.218125 
L 993.478125 675.218125 
L 993.478125 376.918125 
L 551.928125 376.918125 
z
" style="fill: #ffffff"/>
   </g>
   <g id="matplotlib.axis_7">
    <g id="xtick_19">
     <g id="line2d_77">
      <path d="M 572.625 675.2181 L 572.625 376.9181" clip-path="url(#p36041ea5d3)" style="fill: none; stroke: #b0b0b0; stroke-opacity: 0.3; stroke-width: 0.8; stroke-linecap: square"/>
     </g>
     <g id="line2d_78">
      <g>
       <use href="#m572e7fd0fb" x="572.625" y="675.8078" style="stroke: #000000; stroke-width: 0.8"/>
      </g>
     </g>
     <g id="text_48">
      <text style="font-size: 10px; font-family: 'DejaVu Sans', 'Liberation Sans', sans-serif; text-anchor: middle" x="572.5359" y="690.3148">0</text>
     </g>
    </g>
    <g id="xtick_20">
     <g id="line2d_79">
      <path d="M 652.875 675.2181 L 652.875 376.9181" clip-path="url(#p36041ea5d3)" style="fill: none; stroke: #b0b0b0; stroke-opacity: 0.3; stroke-width: 0.8; stroke-linecap: square"/>
     </g>
     <g id="line2d_80">
      <g>
       <use href="#m572e7fd0fb" x="652.875" y="675.8078" style="stroke: #000000; stroke-width: 0.8"/>
      </g>
     </g>
     <g id="text_49">
      <text style="font-size: 10px; font-family: 'DejaVu Sans', 'Liberation Sans', sans-serif; text-anchor: middle" x="652.6727" y="689.8019">1</text>
     </g>
    </g>
    <g id="xtick_21">
     <g id="line2d_81">
      <path d="M 733.125 675.2181 L 733.125 376.9181" clip-path="url(#p36041ea5d3)" style="fill: none; stroke: #b0b0b0; stroke-opacity: 0.3; stroke-width: 0.8; stroke-linecap: square"/>
     </g>
     <g id="line2d_82">
      <g>
       <use href="#m572e7fd0fb" x="733.125" y="675.8078" style="stroke: #000000; stroke-width: 0.8"/>
      </g>
     </g>
     <g id="text_50">
      <text style="font-size: 10px; font-family: 'DejaVu Sans', 'Liberation Sans', sans-serif; text-anchor: middle" x="732.9667" y="689.7981">2</text>
     </g>
    </g>
    <g id="xtick_22">
     <g id="line2d_83">
      <path d="M 813.375 675.2181 L 813.375 376.9181" clip-path="url(#p36041ea5d3)" style="fill: none; stroke: #b0b0b0; stroke-opacity: 0.3; stroke-width: 0.8; stroke-linecap: square"/>
     </g>
     <g id="line2d_84">
      <g>
       <use href="#m572e7fd0fb" x="813.375" y="675.8078" style="stroke: #000000; stroke-width: 0.8"/>
      </g>
     </g>
     <g id="text_51">
      <text style="font-size: 10px; font-family: 'DejaVu Sans', 'Liberation Sans', sans-serif; text-anchor: middle" x="813.2526" y="689.7675">3</text>
     </g>
    </g>
    <g id="xtick_23">
     <g id="line2d_85">
      <path d="M 893.625 675.2181 L 893.625 376.9181" clip-path="url(#p36041ea5d3)" style="fill: none; stroke: #b0b0b0; stroke-opacity: 0.3; stroke-width: 0.8; stroke-linecap: square"/>
     </g>
     <g id="line2d_86">
      <g>
       <use href="#m572e7fd0fb" x="893.625" y="675.8078" style="stroke: #000000; stroke-width: 0.8"/>
      </g>
     </g>
     <g id="text_52">
      <text style="font-size: 10px; font-family: 'DejaVu Sans', 'Liberation Sans', sans-serif; text-anchor: middle" x="893.342" y="689.8853">4</text>
     </g>
    </g>
    <g id="xtick_24">
     <g id="line2d_87">
      <path d="M 973.875 675.2181 L 973.875 376.9181" clip-path="url(#p36041ea5d3)" style="fill: none; stroke: #b0b0b0; stroke-opacity: 0.3; stroke-width: 0.8; stroke-linecap: square"/>
     </g>
     <g id="line2d_88">
      <g>
       <use href="#m572e7fd0fb" x="973.875" y="675.8078" style="stroke: #000000; stroke-width: 0.8"/>
      </g>
     </g>
     <g id="text_53">
      <text style="font-size: 10px; font-family: 'DejaVu Sans', 'Liberation Sans', sans-serif; text-anchor: middle" x="973.6669" y="689.8539">5</text>
     </g>
    </g>
    <g id="text_54">
     <text style="font-size: 10px; font-family: 'DejaVu Sans', 'Liberation Sans', sans-serif; text-anchor: middle" x="773.0353" y="704.1361">Time (s)</text>
    </g>
   </g>
   <g id="matplotlib.axis_8">
    <g id="ytick_16">
     <g id="line2d_89">
      <path d="M 551.9281 624.8078 L 993.4781 624.8078" clip-path="url(#p36041ea5d3)" style="fill: none; stroke: #b0b0b0; stroke-opacity: 0.3; stroke-width: 0.8; stroke-linecap: square"/>
     </g>
     <g id="line2d_90">
      <g>
       <use href="#m8037495adb" x="552.375" y="624.8078" style="stroke: #000000; stroke-width: 0.8"/>
      </g>
     </g>
     <g id="text_55">
      <text style="font-size: 10px; font-family: 'DejaVu Sans', 'Liberation Sans', sans-serif; text-anchor: end" x="545.0365" y="628.9704">200</text>
     </g>
    </g>
    <g id="ytick_17">
     <g id="line2d_91">
      <path d="M 551.9281 567.8078 L 993.4781 567.8078" clip-path="url(#p36041ea5d3)" style="fill: none; stroke: #b0b0b0; stroke-opacity: 0.3; stroke-width: 0.8; stroke-linecap: square"/>
     </g>
     <g id="line2d_92">
      <g>
       <use href="#m8037495adb" x="552.375" y="567.8078" style="stroke: #000000; stroke-width: 0.8"/>
      </g>
     </g>
     <g id="text_56">
      <text style="font-size: 10px; font-family: 'DejaVu Sans', 'Liberation Sans', sans-serif; text-anchor: end" x="545.1395" y="572.1136">400</text>
     </g>
    </g>
    <g id="ytick_18">
     <g id="line2d_93">
      <path d="M 551.9281 511.5578 L 993.4781 511.5578" clip-path="url(#p36041ea5d3)" style="fill: none; stroke: #b0b0b0; stroke-opacity: 0.3; stroke-width: 0.8; stroke-linecap: square"/>
     </g>
     <g id="line2d_94">
      <g>
       <use href="#m8037495adb" x="552.375" y="511.5578" style="stroke: #000000; stroke-width: 0.8"/>
      </g>
     </g>
     <g id="text_57">
      <text style="font-size: 10px; font-family: 'DejaVu Sans', 'Liberation Sans', sans-serif; text-anchor: end" x="545.2216" y="515.4207">600</text>
     </g>
    </g>
    <g id="ytick_19">
     <g id="line2d_95">
      <path d="M 551.9281 454.5578 L 993.4781 454.5578" clip-path="url(#p36041ea5d3)" style="fill: none; stroke: #b0b0b0; stroke-opacity: 0.3; stroke-width: 0.8; stroke-linecap: square"/>
     </g>
     <g id="line2d_96">
      <g>
       <use href="#m8037495adb" x="552.375" y="454.5578" style="stroke: #000000; stroke-width: 0.8"/>
      </g>
     </g>
     <g id="text_58">
      <text style="font-size: 10px; font-family: 'DejaVu Sans', 'Liberation Sans', sans-serif; text-anchor: end" x="545.2258" y="458.2715">800</text>
     </g>
    </g>
    <g id="ytick_20">
     <g id="line2d_97">
      <path d="M 551.9281 397.5578 L 993.4781 397.5578" clip-path="url(#p36041ea5d3)" style="fill: none; stroke: #b0b0b0; stroke-opacity: 0.3; stroke-width: 0.8; stroke-linecap: square"/>
     </g>
     <g id="line2d_98">
      <g>
       <use href="#m8037495adb" x="552.375" y="397.5578" style="stroke: #000000; stroke-width: 0.8"/>
      </g>
     </g>
     <g id="text_59">
      <text style="font-size: 10px; font-family: 'DejaVu Sans', 'Liberation Sans', sans-serif; text-anchor: end" x="544.7087" y="401.1936">1000</text>
     </g>
    </g>
    <g id="text_60">
     <text style="font-size: 10px; font-family: 'DejaVu Sans', 'Liberation Sans', sans-serif; text-anchor: middle" x="512.9936" y="527.4075" transform="rotate(-90 512.9936 527.4075)">ADC Value</text>
    </g>
   </g>
   <g id="line2d_99">
    <path d="M 571.99858 564.757566 
L 572.803007 547.242111 
L 573.607434 564.734687 
L 574.411861 542.71066 
L 576.020715 532.82459 
L 576.825142 529.453177 
L 577.629569 494.727535 
L 578.433996 570.340058 
L 579.238423 519.973189 
L 580.04285 517.48324 
L 580.847277 481.997187 
L 581.651704 530.231864 
L 582.456131 503.766159 
L 583.260558 524.703704 
L 584.064985 490.978392 
L 584.869412 521.352884 
L 585.673839 497.42963 
L 586.478266 496.656146 
L 587.282693 487.505916 
L 588.08712 525.784851 
L 588.891547 505.635802 
L 589.695974 482.079543 
L 590.500401 538.307467 
L 591.304828 543.726496 
L 592.109255 524.050076 
L 592.913682 523.510432 
L 593.71811 525.813358 
L 594.522537 494.199315 
L 595.326964 485.667761 
L 596.131391 511.150751 
L 596.935818 511.042824 
L 597.740245 397.02269 
L 598.544672 493.112574 
L 599.349099 508.00746 
L 600.153526 511.949145 
L 600.957953 505.759174 
L 601.76238 513.133525 
L 602.566807 453.77202 
L 603.371234 463.928927 
L 604.175661 510.411099 
L 604.980088 465.175959 
L 605.784515 448.304173 
L 606.588942 467.509404 
L 607.393369 499.93676 
L 608.197796 447.561444 
L 609.002223 478.85251 
L 609.80665 490.192015 
L 610.611077 459.731394 
L 613.024358 505.112272 
L 613.828785 465.357607 
L 614.633212 501.089129 
L 615.437639 475.671958 
L 616.242067 501.074256 
L 617.046494 475.327306 
L 617.850921 459.76625 
L 618.655348 491.146628 
L 619.459775 508.636432 
L 620.264202 503.190665 
L 621.873056 477.759358 
L 622.677483 495.896605 
L 623.48191 474.745368 
L 624.286337 450.059787 
L 625.090764 461.225108 
L 625.895191 470.017943 
L 626.699618 496.530553 
L 627.504045 489.488546 
L 628.308472 511.461609 
L 629.112899 461.158175 
L 629.917326 497.103128 
L 630.721753 527.118576 
L 631.52618 478.520205 
L 632.330607 473.589752 
L 633.135034 524.025035 
L 633.939461 506.773298 
L 634.743888 475.802331 
L 635.548315 513.501349 
L 636.352742 544.778022 
L 637.157169 473.860194 
L 637.961596 531.872055 
L 638.766024 530.274377 
L 639.570451 494.748127 
L 640.374878 485.853456 
L 641.983732 531.217836 
L 642.788159 498.372658 
L 643.592586 516.40023 
L 644.397013 480.845622 
L 645.20144 550.321471 
L 646.005867 508.139424 
L 646.810294 526.374596 
L 647.614721 486.150204 
L 648.419148 486.864242 
L 649.223575 511.152775 
L 650.028002 499.477336 
L 650.832429 532.588518 
L 651.636856 550.659196 
L 652.441283 546.975545 
L 653.24571 494.048733 
L 654.050137 526.863152 
L 654.854564 545.548241 
L 655.658991 502.645163 
L 656.463418 557.237495 
L 657.267845 514.418355 
L 658.072272 587.650183 
L 658.876699 523.30858 
L 659.681126 579.843907 
L 660.485553 542.570202 
L 661.289981 572.525852 
L 662.094408 564.564213 
L 662.898835 566.549229 
L 663.703262 566.041569 
L 664.507689 520.306059 
L 665.312116 573.359615 
L 666.116543 578.500463 
L 666.92097 578.867193 
L 667.725397 573.461991 
L 668.529824 565.232686 
L 670.943105 598.356138 
L 671.747532 568.599454 
L 672.551959 569.806535 
L 673.356386 568.986922 
L 674.160813 568.551788 
L 674.96524 544.338664 
L 675.769667 601.119102 
L 676.574094 581.891569 
L 677.378521 585.259469 
L 678.182948 594.812771 
L 678.987375 612.609743 
L 679.791802 586.549766 
L 680.596229 589.140021 
L 681.400656 607.469246 
L 682.205083 588.867857 
L 683.00951 561.379986 
L 683.813938 610.370701 
L 684.618365 599.130125 
L 685.422792 557.732261 
L 686.227219 592.892388 
L 687.031646 551.583046 
L 687.836073 583.918186 
L 688.6405 568.90873 
L 689.444927 556.089314 
L 690.249354 651.015525 
L 691.053781 571.962841 
L 691.858208 608.66958 
L 692.662635 611.27286 
L 693.467062 625.403113 
L 694.271489 620.794233 
L 695.075916 596.451757 
L 695.880343 661.659034 
L 696.68477 595.988289 
L 697.489197 570.270364 
L 698.293624 587.709038 
L 699.098051 591.077546 
L 699.902478 596.078385 
L 700.706905 634.082669 
L 701.511332 565.980118 
L 702.315759 610.401327 
L 703.120186 587.328174 
L 703.924613 597.417038 
L 705.533468 542.73019 
L 706.337895 566.733124 
L 707.142322 601.910741 
L 707.946749 647.970457 
L 708.751176 573.504753 
L 709.555603 541.463134 
L 710.36003 567.526213 
L 711.164457 539.631785 
L 711.968884 553.235899 
L 712.773311 558.304578 
L 713.577738 564.961616 
L 714.382165 568.158716 
L 715.186592 594.498663 
L 715.991019 543.55762 
L 716.795446 564.98563 
L 717.599873 563.556938 
L 718.4043 563.572844 
L 719.208727 564.794354 
L 721.622008 552.667746 
L 722.426435 550.260281 
L 723.230862 563.827706 
L 724.035289 526.848099 
L 724.839716 542.499556 
L 725.644143 507.792667 
L 726.44857 531.583012 
L 727.252997 559.535735 
L 728.861852 537.843022 
L 730.470706 582.185952 
L 731.275133 538.463656 
L 732.07956 557.384941 
L 732.883987 533.626323 
L 733.688414 518.084196 
L 734.492841 507.782028 
L 735.297268 555.956315 
L 736.101695 526.352137 
L 736.906122 483.722861 
L 737.710549 547.811 
L 738.514976 574.007179 
L 739.319403 541.434705 
L 740.12383 542.042521 
L 740.928257 494.602491 
L 741.732684 523.157213 
L 742.537111 520.194919 
L 743.341538 485.564452 
L 744.145965 532.401838 
L 744.950392 475.919174 
L 745.754819 520.735304 
L 746.559246 483.074956 
L 747.363673 514.363068 
L 748.1681 469.44711 
L 749.776954 533.466515 
L 750.581382 479.854503 
L 751.385809 493.261602 
L 752.190236 493.892707 
L 752.994663 446.810034 
L 753.79909 547.026074 
L 754.603517 477.348987 
L 755.407944 520.397134 
L 756.212371 476.075052 
L 757.016798 486.130336 
L 757.821225 505.906345 
L 758.625652 506.631744 
L 759.430079 465.264857 
L 760.234506 466.91512 
L 761.038933 484.843086 
L 761.84336 518.926952 
L 762.647787 493.906443 
L 763.452214 512.018399 
L 765.061068 469.50444 
L 765.865495 491.985177 
L 766.669922 490.993214 
L 767.474349 477.595417 
L 768.278776 473.200397 
L 769.083203 495.635772 
L 769.88763 471.196751 
L 770.692057 505.229289 
L 771.496484 471.288656 
L 772.300911 488.483757 
L 773.105339 479.031289 
L 773.909766 487.853293 
L 774.714193 488.316674 
L 775.51862 439.304828 
L 776.323047 478.245171 
L 777.127474 481.010564 
L 777.931901 521.726834 
L 778.736328 483.496556 
L 779.540755 487.884437 
L 780.345182 442.897683 
L 781.149609 481.78028 
L 781.954036 472.868879 
L 782.758463 428.779934 
L 783.56289 463.373641 
L 784.367317 485.971492 
L 785.171744 453.486731 
L 785.976171 491.328422 
L 786.780598 462.884683 
L 787.585025 496.314372 
L 788.389452 473.120963 
L 789.193879 473.336927 
L 789.998306 491.417951 
L 790.802733 529.295496 
L 791.60716 462.552552 
L 792.411587 523.362485 
L 793.216014 452.032522 
L 794.020441 486.729395 
L 794.824868 534.70883 
L 795.629296 484.485585 
L 796.433723 458.883073 
L 797.23815 537.25463 
L 798.042577 512.489717 
L 798.847004 569.061996 
L 799.651431 510.816836 
L 800.455858 533.154688 
L 801.260285 518.197762 
L 802.064712 560.917231 
L 802.869139 521.786336 
L 803.673566 538.063913 
L 804.477993 509.432679 
L 805.28242 496.175819 
L 806.086847 505.832752 
L 806.891274 527.51144 
L 807.695701 535.672182 
L 808.500128 522.136795 
L 809.304555 496.564601 
L 810.108982 540.702999 
L 810.913409 542.724616 
L 811.717836 557.17246 
L 812.522263 532.561926 
L 813.32669 428.892856 
L 814.131117 495.441353 
L 814.935544 463.214999 
L 815.739971 546.366999 
L 816.544398 502.316523 
L 817.348825 437.807223 
L 818.153253 473.817747 
L 818.95768 490.993932 
L 819.762107 479.715453 
L 820.566534 455.870393 
L 821.370961 484.203721 
L 822.175388 479.759004 
L 822.979815 487.041495 
L 823.784242 458.713633 
L 824.588669 488.92472 
L 825.393096 507.378096 
L 826.197523 477.668037 
L 827.00195 530.685298 
L 827.806377 519.688196 
L 828.610804 506.757527 
L 829.415231 489.857897 
L 830.219658 491.680955 
L 831.024085 511.877147 
L 831.828512 510.934438 
L 832.632939 512.592228 
L 833.437366 509.258904 
L 834.241793 508.729892 
L 835.04622 525.218218 
L 835.850647 546.466822 
L 836.655074 480.832325 
L 837.459501 511.075263 
L 838.263928 499.313458 
L 839.068355 533.503052 
L 839.872782 504.607459 
L 840.67721 530.421948 
L 841.481637 518.676543 
L 842.286064 549.055542 
L 843.090491 509.178014 
L 843.894918 563.065356 
L 844.699345 563.97547 
L 845.503772 542.81619 
L 846.308199 526.485774 
L 847.112626 533.573362 
L 847.917053 514.411302 
L 848.72148 542.985622 
L 849.525907 541.312861 
L 850.330334 547.056362 
L 851.134761 559.244704 
L 851.939188 554.421924 
L 852.743615 578.574586 
L 854.352469 511.931315 
L 855.156896 537.148403 
L 855.961323 558.187977 
L 856.76575 524.489558 
L 857.570177 525.524026 
L 858.374604 561.326249 
L 859.179031 537.961263 
L 859.983458 545.594556 
L 860.787885 512.088126 
L 862.39674 560.500032 
L 864.005594 520.001752 
L 865.614448 541.835035 
L 866.418875 527.419972 
L 867.223302 517.370874 
L 868.027729 518.553345 
L 868.832156 568.634527 
L 869.636583 538.423888 
L 870.44101 529.63897 
L 871.245437 542.697239 
L 872.049864 509.450452 
L 872.854291 557.062319 
L 873.658718 497.771478 
L 874.463145 474.458634 
L 875.267572 496.282908 
L 876.071999 521.231776 
L 876.876426 493.162257 
L 877.680853 528.282391 
L 878.48528 497.365898 
L 879.289707 519.283963 
L 880.094134 465.164291 
L 880.898561 486.949692 
L 881.702988 487.046583 
L 882.507415 486.785669 
L 883.311842 500.137032 
L 884.116269 436.707615 
L 884.920697 493.809747 
L 885.725124 481.758426 
L 886.529551 485.28125 
L 887.333978 496.510941 
L 888.138405 485.394507 
L 888.942832 485.253711 
L 889.747259 496.467081 
L 890.551686 470.358027 
L 891.356113 488.170096 
L 892.16054 441.421162 
L 892.964967 468.369849 
L 893.769394 512.597904 
L 894.573821 471.248222 
L 896.182675 458.406541 
L 896.987102 453.652443 
L 897.791529 512.51539 
L 898.595956 479.062904 
L 899.400383 468.784281 
L 900.20481 445.239797 
L 901.009237 455.123166 
L 901.813664 498.764768 
L 902.618091 468.595937 
L 903.422518 418.302972 
L 904.226945 390.477216 
L 905.031372 418.747276 
L 905.835799 472.130621 
L 906.640226 448.401425 
L 907.444654 403.953613 
L 908.249081 435.996638 
L 909.053508 456.332288 
L 909.857935 453.321731 
L 910.662362 462.372626 
L 911.466789 435.325521 
L 912.271216 439.51403 
L 913.075643 424.997537 
L 913.88007 447.950017 
L 914.684497 442.59351 
L 915.488924 446.380609 
L 916.293351 437.422928 
L 917.097778 407.597242 
L 917.902205 425.164343 
L 918.706632 411.89311 
L 919.511059 434.91405 
L 920.315486 442.272217 
L 921.119913 474.067114 
L 921.92434 390.477216 
L 922.728767 415.110518 
L 923.533194 390.477216 
L 924.337621 434.901178 
L 925.142048 414.998165 
L 925.946475 459.596617 
L 926.750902 390.477216 
L 927.555329 411.344467 
L 928.359756 407.034365 
L 929.164183 426.514508 
L 929.968611 435.687673 
L 930.773038 390.477216 
L 931.577465 407.560224 
L 932.381892 418.445302 
L 933.186319 418.68457 
L 933.990746 405.688929 
L 934.795173 446.360059 
L 935.5996 445.089339 
L 936.404027 415.277492 
L 937.208454 396.13737 
L 938.817308 443.831328 
L 939.621735 390.477216 
L 940.426162 405.929124 
L 941.230589 438.520915 
L 942.035016 390.477216 
L 942.839443 433.933975 
L 943.64387 448.315529 
L 944.448297 396.667476 
L 945.252724 413.259118 
L 946.057151 406.285047 
L 946.861578 404.821886 
L 947.666005 390.477216 
L 948.470432 462.877996 
L 949.274859 407.482565 
L 950.079286 405.641203 
L 950.883713 390.477216 
L 951.68814 466.817265 
L 952.492568 468.81461 
L 953.296995 491.881782 
L 954.101422 456.295667 
L 954.905849 448.441602 
L 955.710276 449.970047 
L 957.31913 425.779325 
L 958.123557 452.283579 
L 958.927984 415.171535 
L 959.732411 447.209582 
L 960.536838 425.678925 
L 961.341265 448.061528 
L 962.145692 480.466779 
L 962.950119 435.000313 
L 964.558973 476.64285 
L 966.167827 438.735117 
L 966.972254 476.142988 
L 967.776681 410.269135 
L 968.581108 450.068173 
L 969.385535 507.913831 
L 970.189962 433.912259 
L 970.994389 452.344175 
L 971.798816 456.281919 
L 972.603243 516.082792 
L 973.40767 481.743885 
L 973.40767 481.743885 
" clip-path="url(#p36041ea5d3)" style="fill: none; stroke: #1f77b4; stroke-opacity: 0.4; stroke-linecap: square"/>
   </g>
   <g id="line2d_100">
    <path d="M 571.99858 564.757566 
L 572.803007 561.254475 
L 573.607434 561.950517 
L 575.216288 554.038021 
L 576.825142 545.726903 
L 577.629569 535.52703 
L 578.433996 542.489635 
L 580.04285 533.885725 
L 580.847277 523.508017 
L 581.651704 524.852787 
L 582.456131 520.635461 
L 583.260558 521.44911 
L 584.064985 515.354966 
L 584.869412 516.55455 
L 585.673839 512.729566 
L 586.478266 509.514882 
L 587.282693 505.113089 
L 588.08712 509.247441 
L 588.891547 508.525113 
L 589.695974 503.235999 
L 591.304828 516.945533 
L 592.109255 518.366442 
L 592.913682 519.39524 
L 593.71811 520.678864 
L 595.326964 509.439915 
L 596.935818 510.034231 
L 597.740245 487.431922 
L 598.544672 488.568053 
L 600.153526 496.354576 
L 600.957953 498.235496 
L 601.76238 501.215102 
L 602.566807 491.726485 
L 603.371234 486.166974 
L 604.175661 491.015799 
L 604.980088 485.847831 
L 605.784515 478.339099 
L 606.588942 476.17316 
L 607.393369 480.92588 
L 608.197796 474.252993 
L 609.002223 475.172896 
L 609.80665 478.17672 
L 610.611077 474.487655 
L 611.415504 474.445194 
L 612.219931 477.55111 
L 613.024358 483.063342 
L 613.828785 479.522195 
L 614.633212 483.835582 
L 615.437639 482.202857 
L 616.242067 485.977137 
L 617.046494 483.847171 
L 617.850921 479.030987 
L 618.655348 481.454115 
L 619.459775 486.890578 
L 620.264202 490.150596 
L 621.068629 490.225204 
L 621.873056 487.732035 
L 622.677483 489.364949 
L 623.48191 486.441033 
L 624.286337 479.164784 
L 625.090764 475.576848 
L 625.895191 474.465067 
L 626.699618 478.878165 
L 627.504045 481.000241 
L 628.308472 487.092515 
L 629.112899 481.905647 
L 629.917326 484.945143 
L 630.721753 493.37983 
L 632.330607 487.044274 
L 633.135034 494.440426 
L 633.939461 496.907001 
L 634.743888 492.686067 
L 635.548315 496.849123 
L 636.352742 506.434903 
L 637.157169 499.919961 
L 637.961596 506.31038 
L 638.766024 511.103179 
L 639.570451 507.832169 
L 640.374878 503.436426 
L 641.179305 504.7695 
L 641.983732 510.059167 
L 642.788159 507.721865 
L 643.592586 509.457538 
L 644.397013 503.735155 
L 645.20144 513.052418 
L 646.005867 512.069819 
L 646.810294 514.930775 
L 647.614721 509.174661 
L 648.419148 504.712577 
L 649.223575 506.000616 
L 650.028002 504.69596 
L 650.832429 510.274472 
L 651.636856 518.351417 
L 652.441283 524.076242 
L 653.24571 518.07074 
L 654.050137 519.829223 
L 654.854564 524.973026 
L 655.658991 520.507454 
L 656.463418 527.853462 
L 657.267845 525.166441 
L 658.072272 537.663189 
L 658.876699 534.792267 
L 659.681126 543.802595 
L 660.485553 543.556117 
L 661.289981 549.350064 
L 662.898835 555.224161 
L 663.703262 557.387642 
L 664.507689 549.971326 
L 666.116543 559.419279 
L 666.92097 563.308862 
L 667.725397 565.339488 
L 668.529824 565.318128 
L 669.334251 567.525995 
L 670.138678 571.535534 
L 670.943105 576.899655 
L 671.747532 575.239615 
L 673.356386 573.119783 
L 674.160813 572.206184 
L 674.96524 566.63268 
L 675.769667 573.529965 
L 676.574094 575.202285 
L 677.378521 577.213722 
L 678.182948 580.733532 
L 678.987375 587.108774 
L 679.791802 586.996973 
L 680.596229 587.425582 
L 681.400656 591.434315 
L 682.205083 590.921024 
L 683.00951 585.012816 
L 683.813938 590.084393 
L 684.618365 591.893539 
L 685.422792 585.061284 
L 686.227219 586.627505 
L 687.031646 579.618613 
L 687.836073 580.478527 
L 688.6405 578.164568 
L 689.444927 573.749517 
L 690.249354 589.202719 
L 691.053781 585.754743 
L 692.662635 594.52474 
L 693.467062 600.700415 
L 694.271489 604.719178 
L 695.075916 603.065694 
L 695.880343 614.784362 
L 696.68477 611.025147 
L 697.489197 602.874191 
L 698.293624 599.84116 
L 699.098051 598.088437 
L 699.902478 597.686427 
L 700.706905 604.965675 
L 701.511332 597.168564 
L 702.315759 599.815116 
L 703.120186 597.317728 
L 703.924613 597.33759 
L 704.72904 591.677478 
L 705.533468 581.88802 
L 706.337895 578.857041 
L 707.142322 583.467781 
L 707.946749 596.368316 
L 708.751176 591.795604 
L 709.555603 581.72911 
L 710.36003 578.88853 
L 711.164457 571.037181 
L 711.968884 567.476925 
L 712.773311 565.642455 
L 713.577738 565.506288 
L 714.382165 566.036773 
L 715.186592 571.729151 
L 715.991019 566.094845 
L 716.795446 565.873002 
L 718.4043 565.0424 
L 719.208727 564.992791 
L 720.013154 564.126095 
L 720.817581 562.564033 
L 722.426435 558.519877 
L 723.230862 559.581443 
L 724.035289 553.034774 
L 724.839716 550.92773 
L 725.644143 542.300718 
L 726.44857 540.157176 
L 727.252997 544.032888 
L 728.057425 545.065447 
L 728.861852 543.620962 
L 729.666279 546.82463 
L 730.470706 553.896895 
L 731.275133 550.810247 
L 732.07956 552.125186 
L 732.883987 548.425413 
L 733.688414 542.35717 
L 734.492841 535.442141 
L 735.297268 539.544976 
L 736.101695 536.906408 
L 736.906122 526.269699 
L 737.710549 530.577959 
L 738.514976 539.263803 
L 740.12383 540.166891 
L 740.928257 531.054011 
L 741.732684 529.474651 
L 742.537111 527.618705 
L 743.341538 519.207854 
L 744.145965 521.846651 
L 744.950392 512.661156 
L 745.754819 514.275985 
L 746.559246 508.035779 
L 747.363673 509.301237 
L 748.1681 501.330412 
L 748.972527 501.446808 
L 749.776954 507.85075 
L 750.581382 502.2515 
L 751.385809 500.453521 
L 752.190236 499.141358 
L 752.994663 488.675093 
L 753.79909 500.34529 
L 754.603517 495.746029 
L 755.407944 500.67625 
L 756.212371 495.756011 
L 757.016798 493.830876 
L 758.625652 498.323124 
L 759.430079 491.711471 
L 760.234506 486.752201 
L 761.038933 486.370378 
L 761.84336 492.881692 
L 762.647787 493.086643 
L 763.452214 496.872994 
L 764.256641 495.835513 
L 765.061068 490.569299 
L 765.865495 490.852474 
L 766.669922 490.880622 
L 768.278776 485.218944 
L 769.083203 487.30231 
L 769.88763 484.081198 
L 770.692057 488.310816 
L 771.496484 484.906384 
L 772.300911 485.621859 
L 773.105339 484.303745 
L 774.714193 485.674258 
L 775.51862 476.400372 
L 776.323047 476.769332 
L 777.127474 477.617579 
L 777.931901 486.43943 
L 778.736328 485.850855 
L 779.540755 486.257571 
L 780.345182 477.585594 
L 781.149609 478.424531 
L 781.954036 477.313401 
L 782.758463 467.606707 
L 783.56289 466.760094 
L 784.367317 470.602374 
L 785.171744 467.179245 
L 785.976171 472.009081 
L 786.780598 470.184201 
L 787.585025 475.410235 
L 788.389452 474.952381 
L 789.193879 474.62929 
L 789.998306 477.987022 
L 790.802733 488.248717 
L 791.60716 483.109484 
L 792.411587 491.160084 
L 793.216014 483.334572 
L 794.020441 484.013537 
L 794.824868 494.152595 
L 795.629296 492.219193 
L 796.433723 485.551969 
L 797.23815 495.892501 
L 798.042577 499.211944 
L 798.847004 513.181955 
L 799.651431 512.708931 
L 800.455858 516.798082 
L 801.260285 517.078018 
L 802.064712 525.845861 
L 802.869139 525.033956 
L 803.673566 527.639947 
L 804.477993 523.998494 
L 805.28242 518.433959 
L 806.086847 515.913717 
L 806.891274 518.233262 
L 807.695701 521.721046 
L 808.500128 521.804196 
L 809.304555 516.756277 
L 810.913409 525.78142 
L 811.717836 532.059628 
L 812.522263 532.160087 
L 813.32669 511.506641 
L 814.131117 508.293583 
L 814.935544 499.277867 
L 815.739971 508.695693 
L 816.544398 507.419859 
L 817.348825 493.497332 
L 818.153253 489.561415 
L 818.95768 489.847918 
L 819.762107 487.821425 
L 820.566534 481.431219 
L 821.370961 481.985719 
L 822.175388 481.540376 
L 822.979815 482.6406 
L 823.784242 477.855206 
L 824.588669 480.069109 
L 825.393096 485.530906 
L 826.197523 483.958332 
L 827.00195 493.303726 
L 827.806377 498.58062 
L 828.610804 500.216001 
L 829.415231 498.14438 
L 830.219658 496.851695 
L 831.024085 499.856785 
L 832.632939 504.176298 
L 833.437366 505.19282 
L 834.241793 505.900234 
L 835.04622 509.763831 
L 835.850647 517.104429 
L 836.655074 509.850008 
L 837.459501 510.095059 
L 838.263928 507.938739 
L 839.068355 513.051602 
L 839.872782 511.362773 
L 840.67721 515.174608 
L 841.481637 515.874995 
L 842.286064 522.511104 
L 843.090491 519.844486 
L 843.894918 528.48866 
L 844.699345 535.586022 
L 845.503772 537.032056 
L 846.308199 534.922799 
L 847.112626 534.652912 
L 847.917053 530.60459 
L 848.72148 533.080796 
L 849.525907 534.727209 
L 850.330334 537.19304 
L 851.134761 541.603373 
L 851.939188 544.167083 
L 852.743615 551.048584 
L 853.548042 550.295747 
L 854.352469 542.62286 
L 855.156896 541.527969 
L 855.961323 544.859971 
L 856.76575 540.785888 
L 857.570177 537.733516 
L 858.374604 542.452062 
L 859.179031 541.553902 
L 859.983458 542.362033 
L 860.787885 536.307252 
L 861.592312 536.152367 
L 862.39674 541.0219 
L 863.201167 540.754814 
L 864.005594 536.604201 
L 864.810021 535.55652 
L 865.614448 536.812223 
L 866.418875 534.933773 
L 867.223302 531.421193 
L 868.027729 528.847624 
L 868.832156 536.805004 
L 869.636583 537.128781 
L 870.44101 535.630819 
L 871.245437 537.044103 
L 872.049864 531.525373 
L 872.854291 536.632762 
L 873.658718 528.860505 
L 874.463145 517.980131 
L 875.267572 513.640686 
L 876.071999 515.158904 
L 876.876426 510.759575 
L 877.680853 514.264138 
L 878.48528 510.88449 
L 879.289707 512.564385 
L 880.094134 503.084366 
L 880.898561 499.857431 
L 881.702988 497.295261 
L 882.507415 495.193343 
L 883.311842 496.182081 
L 884.116269 484.287188 
L 884.920697 486.191699 
L 885.725124 485.305045 
L 886.529551 485.300286 
L 887.333978 487.542417 
L 888.942832 486.74101 
L 889.747259 488.686224 
L 890.551686 485.020585 
L 891.356113 485.650487 
L 892.16054 476.804622 
L 892.964967 475.117667 
L 893.769394 482.613715 
L 894.573821 480.340616 
L 895.378248 477.186313 
L 896.987102 469.474775 
L 897.791529 478.082898 
L 898.595956 478.278899 
L 899.400383 476.379976 
L 900.20481 470.15194 
L 901.009237 467.146185 
L 901.813664 473.469902 
L 902.618091 472.495109 
L 903.422518 461.656681 
L 904.226945 447.420788 
L 905.031372 441.686086 
L 905.835799 447.774993 
L 906.640226 447.900279 
L 907.444654 439.110946 
L 908.249081 438.488084 
L 909.053508 442.056925 
L 909.857935 444.309886 
L 910.662362 447.922434 
L 911.466789 445.403052 
L 912.271216 444.225247 
L 913.075643 440.379705 
L 913.88007 441.893767 
L 914.684497 442.033716 
L 915.488924 442.903095 
L 916.293351 441.807061 
L 917.097778 434.965097 
L 917.902205 433.004947 
L 918.706632 428.782579 
L 919.511059 430.008873 
L 920.315486 432.461542 
L 921.119913 440.782656 
L 921.92434 430.721568 
L 922.728767 427.599358 
L 923.533194 420.17493 
L 924.337621 423.12018 
L 925.142048 421.495777 
L 925.946475 429.115945 
L 926.750902 421.388199 
L 927.555329 419.379453 
L 928.359756 416.910435 
L 929.164183 418.83125 
L 929.968611 422.202534 
L 930.773038 415.857471 
L 931.577465 414.198021 
L 933.186319 415.774896 
L 933.990746 413.757703 
L 934.795173 420.278174 
L 935.5996 425.240407 
L 936.404027 423.247824 
L 937.208454 417.825733 
L 938.012881 418.251386 
L 938.817308 423.367374 
L 939.621735 416.789343 
L 940.426162 414.617299 
L 941.230589 419.398022 
L 942.035016 413.613861 
L 942.839443 417.677884 
L 943.64387 423.805413 
L 944.448297 418.377825 
L 945.252724 417.354084 
L 946.861578 413.076598 
L 947.666005 408.556722 
L 948.470432 419.420977 
L 950.079286 414.754876 
L 950.883713 409.899344 
L 951.68814 421.282928 
L 952.492568 430.789265 
L 953.296995 443.007768 
L 954.101422 445.665348 
L 954.905849 446.220599 
L 955.710276 446.970488 
L 956.514703 445.216313 
L 957.31913 441.328915 
L 958.123557 443.519848 
L 958.927984 437.850185 
L 959.732411 439.722065 
L 960.536838 436.913437 
L 961.341265 439.143055 
L 962.145692 447.4078 
L 962.950119 444.926303 
L 963.754546 447.200869 
L 964.558973 453.089265 
L 965.3634 454.173325 
L 966.167827 451.085684 
L 966.972254 456.097145 
L 967.776681 446.931543 
L 968.581108 447.558869 
L 969.385535 459.629861 
L 970.189962 454.486341 
L 970.994389 454.057907 
L 971.798816 454.50271 
L 972.603243 466.818726 
L 973.40767 469.803758 
L 973.40767 469.803758 
" clip-path="url(#p36041ea5d3)" style="fill: none; stroke: #800080; stroke-width: 2; stroke-linecap: square"/>
   </g>
   <g id="patch_21">
    <path d="M 552.375 675.8078 L 552.375 377.3078" style="fill: none; stroke: #000000; stroke-width: 0.8; stroke-linejoin: miter; stroke-linecap: square"/>
   </g>
   <g id="patch_22">
    <path d="M 994.125 675.8078 L 994.125 377.3078" style="fill: none; stroke: #000000; stroke-width: 0.8; stroke-linejoin: miter; stroke-linecap: square"/>
   </g>
   <g id="patch_23">
    <path d="M 552.375 675.8078 L 994.125 675.8078" style="fill: none; stroke: #000000; stroke-width: 0.8; stroke-linejoin: miter; stroke-linecap: square"/>
   </g>
   <g id="patch_24">
    <path d="M 552.375 377.3078 L 994.125 377.3078" style="fill: none; stroke: #000000; stroke-width: 0.8; stroke-linejoin: miter; stroke-linecap: square"/>
   </g>
   <g id="text_61">
    <text style="font-size: 12px; font-family: 'DejaVu Sans', 'Liberation Sans', sans-serif; text-anchor: middle" x="773.1533" y="371.0005">Exponential Moving Average</text>
   </g>
   <g id="legend_4">
    <g id="patch_25">
     <path d="M 559.125 670.5578 L 655.875 670.5578 Q 657.375 670.5578 657.375 668.3078 L 657.375 640.5578 Q 657.375 638.3078 655.875 638.3078 L 559.125 638.3078 Q 557.625 638.3078 557.625 640.5578 L 557.625 668.3078 Q 557.625 670.5578 559.125 670.5578 z" style="fill: #ffffff; opacity: 0.8; stroke: #cccccc; stroke-linejoin: miter"/>
    </g>
    <g id="line2d_101">
     <path d="M 560.9281 645.8078 L 570.9281 645.8078 L 580.9281 645.8078" style="fill: none; stroke: #1f77b4; stroke-opacity: 0.4; stroke-linecap: square"/>
    </g>
    <g id="text_62">
     <text style="font-size: 10px; font-family: 'DejaVu Sans', 'Liberation Sans', sans-serif; text-anchor: start" x="589.0536" y="649.3453">Raw</text>
    </g>
    <g id="line2d_102">
     <path d="M 560.9281 660.8078 L 570.9281 660.8078 L 580.9281 660.8078" style="fill: none; stroke: #800080; stroke-width: 2; stroke-linecap: square"/>
    </g>
    <g id="text_63">
     <text style="font-size: 10px; font-family: 'DejaVu Sans', 'Liberation Sans', sans-serif; text-anchor: start" x="588.4975" y="664.4049">EMA (α=0.2)</text>
    </g>
   </g>
  </g>
 </g>
 <defs>
  <clipPath id="p003c4ebb7e">
   <rect x="53.328125" y="22.318125" width="441.55" height="298.3"/>
  </clipPath>
  <clipPath id="p97eadddab8">
   <rect x="551.928125" y="22.318125" width="441.55" height="298.3"/>
  </clipPath>
  <clipPath id="p6b61f9d24d">
   <rect x="53.328125" y="376.918125" width="441.55" height="298.3"/>
  </clipPath>
  <clipPath id="p36041ea5d3">
   <rect x="551.928125" y="376.918125" width="441.55" height="298.3"/>
  </clipPath>
 </defs>
</svg>

</body></html>
